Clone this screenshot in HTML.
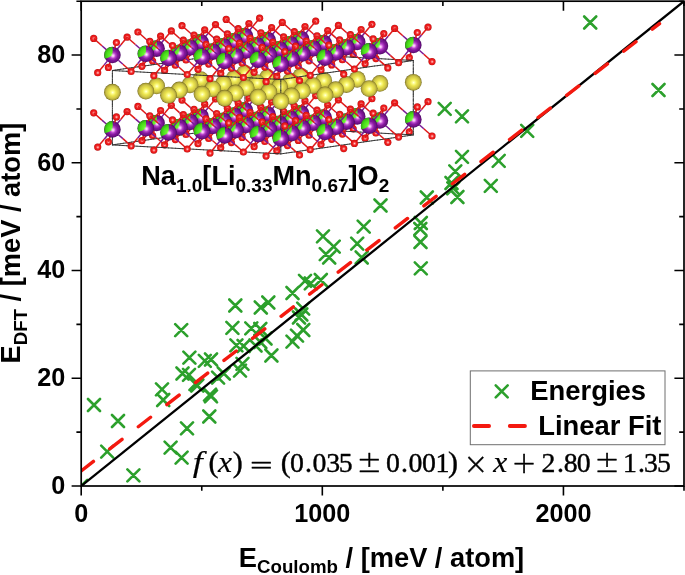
<!DOCTYPE html>
<html lang="en"><head><meta charset="utf-8"><title>E_DFT vs E_Coulomb</title>
<style>html,body{margin:0;padding:0;background:#fff;}body{width:685px;height:575px;overflow:hidden;}svg{display:block;}</style>
</head><body>
<svg width="685" height="575" viewBox="0 0 685 575" role="img" aria-label="Scatter plot of DFT energy versus Coulomb energy with linear fit">
<defs>
<radialGradient id="gMn" cx="0.5" cy="0.5" r="0.5" fx="0.54" fy="0.55">
<stop offset="0" stop-color="#fff2ff"/><stop offset="0.15" stop-color="#f2a6f4"/><stop offset="0.35" stop-color="#b442c8"/><stop offset="0.6" stop-color="#84189c"/><stop offset="0.86" stop-color="#6a0f82"/><stop offset="1" stop-color="#42085a"/></radialGradient>
<radialGradient id="gLi" cx="0.5" cy="0.5" r="0.5" fx="0.54" fy="0.55">
<stop offset="0" stop-color="#ffffff"/><stop offset="0.12" stop-color="#c0ffa6"/><stop offset="0.3" stop-color="#6af232"/><stop offset="0.7" stop-color="#48de1a"/><stop offset="1" stop-color="#2fa512"/></radialGradient>
<radialGradient id="gNa" cx="0.5" cy="0.5" r="0.5" fx="0.52" fy="0.52">
<stop offset="0" stop-color="#ffffee"/><stop offset="0.14" stop-color="#ffff96"/><stop offset="0.42" stop-color="#ece54e"/><stop offset="0.72" stop-color="#cfc546"/><stop offset="0.88" stop-color="#b0a53a"/><stop offset="1" stop-color="#746a1e"/></radialGradient>
<radialGradient id="gO" cx="0.5" cy="0.5" r="0.5" fx="0.53" fy="0.53">
<stop offset="0" stop-color="#ffe0e0"/><stop offset="0.25" stop-color="#fa7070"/><stop offset="0.5" stop-color="#f02424"/><stop offset="0.85" stop-color="#e21414"/><stop offset="1" stop-color="#b40c0c"/></radialGradient>
<clipPath id="wg" clipPathUnits="objectBoundingBox"><path d="M0.48 0.53 Q0.55 0.3 0.51 0 L0 0 L0 0.76 L0.05 0.73 Q0.3 0.66 0.48 0.53Z"/></clipPath>
<filter id="soft" x="-2%" y="-5%" width="104%" height="110%"><feGaussianBlur stdDeviation="0.45"/></filter>
<g id="aM"><circle r="8.3" fill="url(#gMn)"/><circle r="8.3" fill="url(#gLi)" clip-path="url(#wg)"/></g>
<circle id="aN" r="8.4" fill="url(#gNa)"/>
<circle id="aO" r="3.6" fill="url(#gO)"/>
<style>.bm{stroke:#7a1a96;stroke-width:1.5;fill:none}.bo{stroke:#de1a1a;stroke-width:1.5;fill:none}.bx{stroke:#303030;stroke-width:0.95;fill:none;stroke-linecap:round}</style>
</defs>
<rect x="0" y="0" width="685" height="575" fill="#ffffff"/>
<clipPath id="pc"><rect x="81.2" y="1.2" width="602.8" height="484.8"/></clipPath>
<path d="M75.2 480.0L87.2 492.0M75.2 492.0L87.2 480.0M88.0 399.0L100.0 411.0M88.0 411.0L100.0 399.0M112.0 415.0L124.0 427.0M112.0 427.0L124.0 415.0M101.2 445.6L113.2 457.6M101.2 457.6L113.2 445.6M127.4 469.4L139.4 481.4M127.4 481.4L139.4 469.4M156.0 383.4L168.0 395.4M156.0 395.4L168.0 383.4M157.2 394.0L169.2 406.0M157.2 406.0L169.2 394.0M181.0 422.4L193.0 434.4M181.0 434.4L193.0 422.4M164.6 441.6L176.6 453.6M164.6 453.6L176.6 441.6M175.6 451.6L187.6 463.6M175.6 463.6L187.6 451.6M203.3 410.5L215.3 422.5M203.3 422.5L215.3 410.5M175.2 324.2L187.2 336.2M175.2 336.2L187.2 324.2M183.4 351.7L195.4 363.7M183.4 363.7L195.4 351.7M176.5 367.5L188.5 379.5M176.5 379.5L188.5 367.5M183.0 368.8L195.0 380.8M183.0 380.8L195.0 368.8M198.8 354.8L210.8 366.8M198.8 366.8L210.8 354.8M205.0 353.5L217.0 365.5M205.0 365.5L217.0 353.5M191.3 379.5L203.3 391.5M191.3 391.5L203.3 379.5M189.5 378.0L201.5 390.0M189.5 390.0L201.5 378.0M205.0 390.3L217.0 402.3M205.0 402.3L217.0 390.3M204.0 388.6L216.0 400.6M204.0 400.6L216.0 388.6M212.1 371.6L224.1 383.6M212.1 383.6L224.1 371.6M217.8 367.5L229.8 379.5M217.8 379.5L229.8 367.5M234.0 364.6L246.0 376.6M234.0 376.6L246.0 364.6M230.4 339.4L242.4 351.4M230.4 351.4L242.4 339.4M237.6 340.0L249.6 352.0M237.6 352.0L249.6 340.0M229.3 299.5L241.3 311.5M229.3 311.5L241.3 299.5M254.8 301.5L266.8 313.5M254.8 313.5L266.8 301.5M262.3 296.5L274.3 308.5M262.3 308.5L274.3 296.5M286.5 287.0L298.5 299.0M286.5 299.0L298.5 287.0M226.4 321.9L238.4 333.9M226.4 333.9L238.4 321.9M245.3 322.3L257.3 334.3M245.3 334.3L257.3 322.3M254.3 323.0L266.3 335.0M254.3 335.0L266.3 323.0M236.5 357.8L248.5 369.8M236.5 369.8L248.5 357.8M265.4 349.5L277.4 361.5M265.4 361.5L277.4 349.5M286.5 335.7L298.5 347.7M286.5 347.7L298.5 335.7M297.3 324.0L309.3 336.0M297.3 336.0L309.3 324.0M297.2 302.6L309.2 314.6M297.2 314.6L309.2 302.6M295.3 308.5L307.3 320.5M295.3 320.5L307.3 308.5M293.0 311.5L305.0 323.5M293.0 323.5L305.0 311.5M249.5 339.5L261.5 351.5M249.5 351.5L261.5 339.5M254.3 336.0L266.3 348.0M254.3 348.0L266.3 336.0M259.5 332.5L271.5 344.5M259.5 344.5L271.5 332.5M291.0 329.7L303.0 341.7M291.0 341.7L303.0 329.7M374.5 199.5L386.5 211.5M374.5 211.5L386.5 199.5M357.7 220.7L369.7 232.7M357.7 232.7L369.7 220.7M317.0 230.3L329.0 242.3M317.0 242.3L329.0 230.3M327.7 240.7L339.7 252.7M327.7 252.7L339.7 240.7M351.2 237.7L363.2 249.7M351.2 249.7L363.2 237.7M319.8 248.2L331.8 260.2M319.8 260.2L331.8 248.2M323.2 251.5L335.2 263.5M323.2 263.5L335.2 251.5M355.7 251.5L367.7 263.5M355.7 263.5L367.7 251.5M299.0 274.8L311.0 286.8M299.0 286.8L311.0 274.8M304.8 277.3L316.8 289.3M304.8 289.3L316.8 277.3M314.8 274.0L326.8 286.0M314.8 286.0L326.8 274.0M420.8 191.5L432.8 203.5M420.8 203.5L432.8 191.5M451.4 191.0L463.4 203.0M451.4 203.0L463.4 191.0M414.8 217.0L426.8 229.0M414.8 229.0L426.8 217.0M414.3 223.0L426.3 235.0M414.3 235.0L426.3 223.0M414.5 236.0L426.5 248.0M414.5 248.0L426.5 236.0M414.8 262.3L426.8 274.3M414.8 274.3L426.8 262.3M456.0 150.8L468.0 162.8M456.0 162.8L468.0 150.8M449.3 165.3L461.3 177.3M449.3 177.3L461.3 165.3M445.5 177.0L457.5 189.0M445.5 189.0L457.5 177.0M447.3 182.3L459.3 194.3M447.3 194.3L459.3 182.3M484.8 179.8L496.8 191.8M484.8 191.8L496.8 179.8M438.7 102.8L450.7 114.8M438.7 114.8L450.7 102.8M456.0 110.3L468.0 122.3M456.0 122.3L468.0 110.3M521.2 124.8L533.2 136.8M521.2 136.8L533.2 124.8M492.7 154.8L504.7 166.8M492.7 166.8L504.7 154.8M584.2 16.5L596.2 28.5M584.2 28.5L596.2 16.5M652.5 84.0L664.5 96.0M652.5 96.0L664.5 84.0" fill="none" stroke="#2ca02c" stroke-width="2.6" stroke-linecap="round" clip-path="url(#pc)"/>
<line x1="81.2" y1="486.0" x2="684.0" y2="1.2" stroke="#000" stroke-width="2.3" clip-path="url(#pc)"/>
<line x1="81.2" y1="470.9" x2="659.5" y2="23.6" stroke="#f4190f" stroke-width="3.4" stroke-dasharray="15.5 20.6" stroke-linecap="round" clip-path="url(#pc)"/>
<g id="crystal" filter="url(#soft)">
<use href="#aO" x="240.9" y="122.9"/>
<path class="bm" d="M243.6 114.4L242.7 117.4"/><path class="bo" d="M242.7 117.4L240.9 122.9"/>
<use href="#aO" x="259.6" y="92.7"/>
<use href="#aO" x="240.9" y="48.5"/>
<path class="bx" d="M242.1 126.3L244.9 125.9M255.4 126.5L251.9 126.3L248.4 126.1L244.9 125.9M244.9 105.8L244.9 107.3L244.9 108.9L244.9 110.4L244.9 112L244.9 113.5L244.9 115.1L244.9 116.6L244.9 118.2L244.9 119.7L244.9 121.3L244.9 122.8L244.9 124.4L244.9 125.9"/>
<path class="bm" d="M249.6 104.7L253.1 100.4"/><path class="bo" d="M253.1 100.4L259.6 92.7"/>
<path class="bx" d="M239.4 126.7L242.1 126.3M258.9 126.7L255.4 126.5M244.9 94.9L244.9 96.5L244.9 98L244.9 99.6L244.9 101.1L244.9 102.7L244.9 104.2L244.9 105.8"/>
<use href="#aO" x="226.2" y="93.8"/>
<path class="bx" d="M262.4 126.8L258.9 126.7M244.9 93.4L244.9 94.9"/>
<use href="#aO" x="297" y="125.9"/>
<path class="bx" d="M236.6 127.1L239.4 126.7M265.9 127L262.4 126.8M244.9 84.1L244.9 85.6L244.9 87.2L244.9 88.7L244.9 90.3L244.9 91.8L244.9 93.4"/>
<path class="bm" d="M238.9 105L234.4 101.1"/><path class="bo" d="M234.4 101.1L226.2 93.8"/>
<path class="bx" d="M233.9 127.5L236.6 127.1M269.4 127.2L265.9 127M244.9 73.2L244.9 74.8L244.9 76.3L244.9 77.9L244.9 79.4L244.9 81L244.9 82.5L244.9 84.1"/>
<use href="#aM" x="244.9" y="110.4"/>
<path class="bx" d="M276.5 127.6L273 127.4L269.4 127.2M244.9 65.5L244.9 67L244.9 68.6L244.9 70.1L244.9 71.7L244.9 73.2"/>
<path class="bm" d="M243.6 40L242.7 43"/><path class="bo" d="M242.7 43L240.9 48.5"/>
<path class="bx" d="M244.9 62.4L244.9 63.9L244.9 65.5"/>
<use href="#aO" x="259.6" y="18.2"/>
<path class="bm" d="M250.9 115.7L255.4 119.7"/><path class="bo" d="M255.4 119.7L263.6 127"/>
<path class="bx" d="M231.1 127.9L233.9 127.5M283.5 128L280 127.8L276.5 127.6M244.9 51.5L244.9 53.1L244.9 54.6L244.9 56.2L244.9 57.7L244.9 59.3L244.9 60.8L244.9 62.4"/>
<use href="#aO" x="263.6" y="127"/>
<path class="bx" d="M242.1 51.9L244.9 51.5M248.4 51.7L244.9 51.5M228.3 128.3L231.1 127.9M287 128.2L283.5 128"/>
<path class="bm" d="M240.2 116L236.6 120.3"/><path class="bo" d="M236.6 120.3L230.2 128.1"/>
<path class="bx" d="M251.9 51.9L248.4 51.7M290.5 128.3L287 128.2"/>
<use href="#aN" x="244.9" y="73.3"/>
<path class="bx" d="M255.4 52.1L251.9 51.9M294 128.5L290.5 128.3"/>
<path class="bm" d="M249.6 30.3L253.1 26"/><path class="bo" d="M253.1 26L259.6 18.2"/>
<path class="bx" d="M239.4 52.3L242.1 51.9M225.6 128.7L228.3 128.3"/>
<path class="bm" d="M299.7 117.4L298.8 120.4"/><path class="bo" d="M298.8 120.4L297 125.9"/>
<path class="bx" d="M258.9 52.3L255.4 52.1"/>
<use href="#aO" x="315.7" y="95.7"/>
<path class="bx" d="M297.5 128.7L294 128.5"/>
<use href="#aO" x="226.2" y="19.4"/>
<path class="bx" d="M262.4 52.4L258.9 52.3"/>
<use href="#aO" x="297" y="51.5"/>
<path class="bx" d="M236.6 52.7L239.4 52.3M265.9 52.6L262.4 52.4M222.8 129.1L225.6 128.7M301 128.9L297.5 128.7"/>
<path class="bm" d="M238.9 30.6L234.4 26.7"/><path class="bo" d="M234.4 26.7L226.2 19.4"/>
<path class="bx" d="M304.5 129.1L301 128.9"/>
<use href="#aO" x="230.2" y="128.1"/>
<path class="bm" d="M246.2 106.4L247.1 103.4"/><path class="bo" d="M247.1 103.4L248.9 97.9"/>
<path class="bx" d="M233.9 53.1L236.6 52.7M269.4 52.8L265.9 52.6M220.1 129.5L222.8 129.1M308 129.3L304.5 129.1"/>
<use href="#aM" x="244.9" y="36"/>
<path class="bx" d="M273 53L269.4 52.8M311.5 129.5L308 129.3"/>
<path class="bm" d="M305.7 107.7L309.3 103.4"/><path class="bo" d="M309.3 103.4L315.7 95.7"/>
<path class="bx" d="M276.5 53.2L273 53M315.1 129.7L311.5 129.5"/>
<path class="bm" d="M250.9 41.3L255.4 45.3"/><path class="bo" d="M255.4 45.3L263.6 52.6"/>
<path class="bm" d="M266.3 118.5L265.4 121.5"/><path class="bo" d="M265.4 121.5L263.6 127"/>
<path class="bx" d="M231.1 53.5L233.9 53.1M280 53.4L276.5 53.2M217.3 129.9L220.1 129.5"/>
<use href="#aO" x="282.3" y="96.8"/>
<path class="bx" d="M318.6 129.8L315.1 129.7"/>
<use href="#aO" x="353.2" y="128.8"/>
<path class="bx" d="M283.5 53.6L280 53.4"/>
<use href="#aO" x="263.6" y="52.6"/>
<path class="bx" d="M322.1 130L318.6 129.8"/>
<path class="bm" d="M295 108L290.5 104.1"/><path class="bo" d="M290.5 104.1L282.3 96.8"/>
<path class="bx" d="M228.3 53.9L231.1 53.5M287 53.8L283.5 53.6M214.5 130.3L217.3 129.9"/>
<use href="#aO" x="196.7" y="129.2"/>
<path class="bx" d="M325.6 130.2L322.1 130"/>
<path class="bm" d="M240.2 41.6L236.6 45.9"/><path class="bo" d="M236.6 45.9L230.2 53.7"/>
<path class="bx" d="M290.5 53.9L287 53.8"/>
<use href="#aM" x="301" y="113.4"/>
<path class="bx" d="M225.6 54.3L228.3 53.9M294 54.1L290.5 53.9M211.8 130.7L214.5 130.3M332.6 130.6L329.1 130.4L325.6 130.2"/>
<path class="bm" d="M299.7 43L298.8 46"/><path class="bo" d="M298.8 46L297 51.5"/>
<path class="bm" d="M272.3 108.8L275.8 104.6"/><path class="bo" d="M275.8 104.6L282.3 96.8"/>
<use href="#aO" x="315.7" y="21.2"/>
<path class="bm" d="M307 118.7L311.5 122.7"/><path class="bo" d="M311.5 122.7L319.7 130"/>
<path class="bx" d="M297.5 54.3L294 54.1M336.1 130.8L332.6 130.6"/>
<path class="bm" d="M232.9 119.6L231.9 122.6"/><path class="bo" d="M231.9 122.6L230.2 128.1"/>
<path class="bx" d="M301 54.5L297.5 54.3"/>
<use href="#aO" x="248.9" y="97.9"/>
<path class="bx" d="M222.8 54.7L225.6 54.3M209 131.1L211.8 130.7M339.6 131L336.1 130.8"/>
<use href="#aO" x="319.7" y="130"/>
<path class="bx" d="M304.5 54.7L301 54.5"/>
<use href="#aO" x="230.2" y="53.7"/>
<path class="bm" d="M246.2 32L247.1 29"/><path class="bo" d="M247.1 29L248.9 23.5"/>
<path class="bx" d="M343.1 131.2L339.6 131"/>
<path class="bm" d="M261.6 109.2L257.1 105.2"/><path class="bo" d="M257.1 105.2L248.9 97.9"/>
<path class="bm" d="M296.3 119L292.8 123.3"/><path class="bo" d="M292.8 123.3L286.3 131.1"/>
<path class="bx" d="M220.1 55.1L222.8 54.7M308 54.9L304.5 54.7M206.3 131.4L209 131.1M346.6 131.3L343.1 131.2"/>
<use href="#aN" x="301" y="76.3"/>
<path class="bx" d="M311.5 55.1L308 54.9"/>
<use href="#aM" x="267.6" y="114.5"/>
<path class="bx" d="M350.1 131.5L346.6 131.3"/>
<path class="bm" d="M305.7 33.3L309.3 29"/><path class="bo" d="M309.3 29L315.7 21.2"/>
<path class="bm" d="M355.9 120.4L354.9 123.4"/><path class="bo" d="M354.9 123.4L353.2 128.8"/>
<path class="bx" d="M315.1 55.3L311.5 55.1"/>
<use href="#aO" x="371.9" y="98.7"/>
<path class="bx" d="M353.6 131.7L350.1 131.5"/>
<path class="bm" d="M266.3 44.1L265.4 47.1"/><path class="bo" d="M265.4 47.1L263.6 52.6"/>
<path class="bx" d="M217.3 55.5L220.1 55.1M203.5 131.8L206.3 131.4"/>
<path class="bm" d="M238.9 109.9L242.4 105.7"/><path class="bo" d="M242.4 105.7L248.9 97.9"/>
<use href="#aO" x="282.3" y="22.4"/>
<path class="bm" d="M273.6 119.8L278.1 123.8"/><path class="bo" d="M278.1 123.8L286.3 131.1"/>
<path class="bx" d="M318.6 55.4L315.1 55.3"/>
<use href="#aO" x="353.2" y="54.5"/>
<path class="bx" d="M357.2 131.9L353.6 131.7"/>
<path class="bm" d="M199.5 120.7L198.5 123.7"/><path class="bo" d="M198.5 123.7L196.7 129.2"/>
<path class="bx" d="M322.1 55.6L318.6 55.4"/>
<use href="#aO" x="215.5" y="99"/>
<path class="bm" d="M295 33.6L290.5 29.7"/><path class="bo" d="M290.5 29.7L282.3 22.4"/>
<path class="bx" d="M360.7 132.1L357.2 131.9"/>
<use href="#aO" x="286.3" y="131.1"/>
<path class="bx" d="M214.5 55.9L217.3 55.5M200.7 132.2L203.5 131.8"/>
<path class="bm" d="M302.3 109.4L303.3 106.4"/><path class="bo" d="M303.3 106.4L305 100.9"/>
<use href="#aO" x="196.7" y="54.8"/>
<path class="bx" d="M325.6 55.8L322.1 55.6M364.2 132.3L360.7 132.1"/>
<path class="bm" d="M228.2 110.3L223.7 106.3"/><path class="bo" d="M223.7 106.3L215.5 99"/>
<path class="bm" d="M262.9 120.1L259.3 124.4"/><path class="bo" d="M259.3 124.4L252.9 132.2"/>
<use href="#aM" x="301" y="39"/>
<path class="bx" d="M329.1 56L325.6 55.8M367.7 132.5L364.2 132.3"/>
<use href="#aN" x="267.6" y="77.4"/>
<path class="bx" d="M198 132.6L200.7 132.2"/>
<path class="bm" d="M361.9 110.7L365.4 106.4"/><path class="bo" d="M365.4 106.4L371.9 98.7"/>
<path class="bx" d="M211.8 56.3L214.5 55.9M332.6 56.2L329.1 56"/>
<use href="#aM" x="234.2" y="115.6"/>
<path class="bm" d="M272.3 34.4L275.8 30.2"/><path class="bo" d="M275.8 30.2L282.3 22.4"/>
<path class="bx" d="M371.2 132.7L367.7 132.5"/>
<path class="bm" d="M307 44.3L311.5 48.3"/><path class="bo" d="M311.5 48.3L319.7 55.6"/>
<path class="bm" d="M322.4 121.5L321.5 124.5"/><path class="bo" d="M321.5 124.5L319.7 130"/>
<path class="bx" d="M336.1 56.4L332.6 56.2"/>
<use href="#aO" x="338.4" y="99.8"/>
<path class="bx" d="M374.7 132.8L371.2 132.7"/>
<path class="bm" d="M232.9 45.2L231.9 48.2"/><path class="bo" d="M231.9 48.2L230.2 53.7"/>
<use href="#aO" x="409.3" y="131.9"/>
<path class="bm" d="M205.4 111L209 106.8"/><path class="bo" d="M209 106.8L215.5 99"/>
<use href="#aO" x="248.9" y="23.5"/>
<path class="bm" d="M240.1 120.9L244.6 124.9"/><path class="bo" d="M244.6 124.9L252.9 132.2"/>
<path class="bx" d="M209 56.7L211.8 56.3M339.6 56.6L336.1 56.4M195.2 133L198 132.6"/>
<use href="#aO" x="319.7" y="55.6"/>
<path class="bx" d="M378.2 133L374.7 132.8"/>
<path class="bm" d="M351.2 111L346.7 107.1"/><path class="bo" d="M346.7 107.1L338.4 99.8"/>
<path class="bx" d="M343.1 56.8L339.6 56.6"/>
<use href="#aO" x="182" y="100.1"/>
<path class="bm" d="M261.6 34.8L257.1 30.8"/><path class="bo" d="M257.1 30.8L248.9 23.5"/>
<use href="#aO" x="252.9" y="132.2"/>
<path class="bx" d="M381.7 133.2L378.2 133"/>
<path class="bm" d="M296.3 44.6L292.8 48.9"/><path class="bo" d="M292.8 48.9L286.3 56.7"/>
<path class="bm" d="M268.9 110.5L269.8 107.5"/><path class="bo" d="M269.8 107.5L271.6 102"/>
<path class="bx" d="M206.3 57L209 56.7M346.6 56.9L343.1 56.8M192.5 133.4L195.2 133"/>
<use href="#aM" x="357.2" y="116.4"/>
<path class="bx" d="M385.2 133.4L381.7 133.2"/>
<path class="bm" d="M194.7 111.4L190.3 107.4"/><path class="bo" d="M190.3 107.4L182 100.1"/>
<path class="bm" d="M229.4 121.2L225.9 125.5"/><path class="bo" d="M225.9 125.5L219.4 133.3"/>
<use href="#aM" x="267.6" y="40.1"/>
<path class="bx" d="M350.1 57.1L346.6 56.9M388.7 133.6L385.2 133.4"/>
<path class="bm" d="M355.9 46L354.9 49"/><path class="bo" d="M354.9 49L353.2 54.5"/>
<use href="#aN" x="234.2" y="78.5"/>
<path class="bm" d="M328.4 111.8L332 107.6"/><path class="bo" d="M332 107.6L338.4 99.8"/>
<use href="#aO" x="371.9" y="24.3"/>
<path class="bm" d="M363.1 121.7L367.6 125.7"/><path class="bo" d="M367.6 125.7L375.9 133"/>
<path class="bx" d="M203.5 57.4L206.3 57M353.6 57.3L350.1 57.1M189.7 133.8L192.5 133.4"/>
<use href="#aM" x="200.7" y="116.7"/>
<path class="bm" d="M238.9 35.5L242.4 31.3"/><path class="bo" d="M242.4 31.3L248.9 23.5"/>
<path class="bx" d="M392.2 133.8L388.7 133.6"/>
<path class="bm" d="M273.6 45.4L278.1 49.4"/><path class="bo" d="M278.1 49.4L286.3 56.7"/>
<path class="bm" d="M289 122.6L288.1 125.6"/><path class="bo" d="M288.1 125.6L286.3 131.1"/>
<path class="bx" d="M357.2 57.5L353.6 57.3"/>
<use href="#aO" x="305" y="100.9"/>
<path class="bm" d="M199.5 46.3L198.5 49.3"/><path class="bo" d="M198.5 49.3L196.7 54.8"/>
<path class="bx" d="M395.7 134L392.2 133.8"/>
<use href="#aO" x="375.9" y="133"/>
<use href="#aO" x="215.5" y="24.6"/>
<path class="bm" d="M206.7 122L211.2 126"/><path class="bo" d="M211.2 126L219.4 133.3"/>
<path class="bx" d="M360.7 57.7L357.2 57.5"/>
<use href="#aO" x="286.3" y="56.7"/>
<path class="bx" d="M200.7 57.8L203.5 57.4M186.9 134.2L189.7 133.8"/>
<path class="bm" d="M302.3 35L303.3 32"/><path class="bo" d="M303.3 32L305 26.5"/>
<path class="bx" d="M399.2 134.2L395.7 134"/>
<path class="bm" d="M317.7 112.2L313.2 108.2"/><path class="bo" d="M313.2 108.2L305 100.9"/>
<path class="bm" d="M352.4 122L348.9 126.3"/><path class="bo" d="M348.9 126.3L342.4 134.1"/>
<path class="bx" d="M364.2 57.9L360.7 57.7"/>
<path class="bm" d="M228.2 35.9L223.7 31.9"/><path class="bo" d="M223.7 31.9L215.5 24.6"/>
<use href="#aO" x="219.4" y="133.3"/>
<path class="bx" d="M402.8 134.3L399.2 134.2"/>
<path class="bm" d="M262.9 45.7L259.3 50"/><path class="bo" d="M259.3 50L252.9 57.8"/>
<use href="#aN" x="357.2" y="79.3"/>
<path class="bm" d="M235.4 111.6L236.4 108.6"/><path class="bo" d="M236.4 108.6L238.2 103.1"/>
<path class="bx" d="M367.7 58.1L364.2 57.9"/>
<use href="#aM" x="323.7" y="117.5"/>
<path class="bx" d="M198 58.2L200.7 57.8M184.2 134.6L186.9 134.2M406.3 134.5L402.8 134.3"/>
<path class="bm" d="M361.9 36.3L365.4 32"/><path class="bo" d="M365.4 32L371.9 24.3"/>
<path class="bm" d="M196 122.4L192.5 126.6"/><path class="bo" d="M192.5 126.6L186 134.4"/>
<use href="#aM" x="234.2" y="41.2"/>
<path class="bm" d="M412 123.4L411 126.4"/><path class="bo" d="M411 126.4L409.3 131.9"/>
<path class="bx" d="M371.2 58.3L367.7 58.1"/>
<use href="#aO" x="428" y="101.7"/>
<path class="bx" d="M409.8 134.7L406.3 134.5"/>
<path class="bm" d="M322.4 47.1L321.5 50.1"/><path class="bo" d="M321.5 50.1L319.7 55.6"/>
<use href="#aN" x="200.7" y="79.6"/>
<path class="bm" d="M295 112.9L298.5 108.7"/><path class="bo" d="M298.5 108.7L305 100.9"/>
<use href="#aO" x="338.4" y="25.4"/>
<path class="bm" d="M329.7 122.8L334.2 126.8"/><path class="bo" d="M334.2 126.8L342.4 134.1"/>
<path class="bx" d="M374.7 58.4L371.2 58.3"/>
<use href="#aO" x="409.3" y="57.5"/>
<path class="bm" d="M205.4 36.6L209 32.4"/><path class="bo" d="M209 32.4L215.5 24.6"/>
<path class="bm" d="M240.1 46.5L244.6 50.5"/><path class="bo" d="M244.6 50.5L252.9 57.8"/>
<path class="bx" d="M195.2 58.6L198 58.2M181.4 135L184.2 134.6M413.3 134.9L409.8 134.7"/>
<path class="bm" d="M255.6 123.7L254.6 126.7"/><path class="bo" d="M254.6 126.7L252.9 132.2"/>
<path class="bx" d="M378.2 58.6L374.7 58.4M413.3 133.4L413.3 134.9"/>
<use href="#aO" x="271.6" y="102"/>
<path class="bx" d="M413.3 131.8L413.3 133.4"/>
<path class="bm" d="M351.2 36.6L346.7 32.7"/><path class="bo" d="M346.7 32.7L338.4 25.4"/>
<use href="#aO" x="342.4" y="134.1"/>
<path class="bx" d="M413.3 128.7L413.3 130.3L413.3 131.8"/>
<use href="#aO" x="182" y="25.7"/>
<path class="bm" d="M358.4 112.4L359.4 109.4"/><path class="bo" d="M359.4 109.4L361.1 103.9"/>
<path class="bx" d="M413.3 127.2L413.3 128.7"/>
<use href="#aO" x="252.9" y="57.8"/>
<path class="bx" d="M381.7 58.8L378.2 58.6M410.5 135.3L413.3 134.9M413.3 125.6L413.3 127.2"/>
<path class="bm" d="M268.9 36.1L269.8 33.1"/><path class="bo" d="M269.8 33.1L271.6 27.6"/>
<path class="bx" d="M192.5 59L195.2 58.6M178.7 135.4L181.4 135M413.3 122.5L413.3 124.1L413.3 125.6"/>
<path class="bm" d="M284.3 113.3L279.8 109.3"/><path class="bo" d="M279.8 109.3L271.6 102"/>
<path class="bx" d="M413.3 121L413.3 122.5"/>
<path class="bm" d="M319 123.1L315.5 127.4"/><path class="bo" d="M315.5 127.4L309 135.2"/>
<use href="#aM" x="357.2" y="42"/>
<path class="bx" d="M385.2 59L381.7 58.8M413.3 117.9L413.3 119.4L413.3 121"/>
<path class="bm" d="M194.7 37L190.3 33"/><path class="bo" d="M190.3 33L182 25.7"/>
<use href="#aO" x="186" y="134.4"/>
<path class="bm" d="M229.4 46.8L225.9 51.1"/><path class="bo" d="M225.9 51.1L219.4 58.9"/>
<path class="bx" d="M413.3 116.3L413.3 117.9"/>
<use href="#aN" x="323.7" y="80.4"/>
<path class="bm" d="M202 112.7L203 109.7"/><path class="bo" d="M203 109.7L204.7 104.2"/>
<path class="bx" d="M413.3 114.8L413.3 116.3"/>
<path class="bm" d="M418 113.7L421.5 109.4"/><path class="bo" d="M421.5 109.4L428 101.7"/>
<path class="bx" d="M388.7 59.2L385.2 59M407.8 135.7L410.5 135.3M413.3 111.7L413.3 113.2L413.3 114.8"/>
<use href="#aM" x="290.3" y="118.6"/>
<path class="bx" d="M413.3 110.1L413.3 111.7"/>
<path class="bm" d="M328.4 37.4L332 33.2"/><path class="bo" d="M332 33.2L338.4 25.4"/>
<path class="bm" d="M363.1 47.3L367.6 51.3"/><path class="bo" d="M367.6 51.3L375.9 58.6"/>
<path class="bx" d="M189.7 59.4L192.5 59M175.9 135.8L178.7 135.4M413.3 107L413.3 108.6L413.3 110.1"/>
<use href="#aM" x="200.7" y="42.3"/>
<path class="bm" d="M378.6 124.5L377.6 127.5"/><path class="bo" d="M377.6 127.5L375.9 133"/>
<path class="bx" d="M392.2 59.4L388.7 59.2M413.3 103.9L413.3 105.5L413.3 107"/>
<use href="#aO" x="394.6" y="102.8"/>
<path class="bm" d="M289 48.2L288.1 51.2"/><path class="bo" d="M288.1 51.2L286.3 56.7"/>
<path class="bx" d="M413.3 100.8L413.3 102.4L413.3 103.9"/>
<path class="bm" d="M261.6 114L265.1 109.8"/><path class="bo" d="M265.1 109.8L271.6 102"/>
<use href="#aO" x="305" y="26.5"/>
<path class="bm" d="M296.3 123.9L300.8 127.9"/><path class="bo" d="M300.8 127.9L309 135.2"/>
<path class="bx" d="M395.7 59.6L392.2 59.4M413.3 99.3L413.3 100.8"/>
<use href="#aO" x="375.9" y="58.6"/>
<path class="bx" d="M405 136.1L407.8 135.7M413.3 96.2L413.3 97.7L413.3 99.3"/>
<path class="bm" d="M206.7 47.6L211.2 51.6"/><path class="bo" d="M211.2 51.6L219.4 58.9"/>
<path class="bx" d="M413.3 94.6L413.3 96.2"/>
<path class="bm" d="M222.2 124.8L221.2 127.8"/><path class="bo" d="M221.2 127.8L219.4 133.3"/>
<path class="bx" d="M413.3 93.1L413.3 94.6"/>
<path class="bm" d="M407.3 114L402.8 110.1"/><path class="bo" d="M402.8 110.1L394.6 102.8"/>
<path class="bx" d="M186.9 59.8L189.7 59.4M399.2 59.8L395.7 59.6M173.1 136.2L175.9 135.8M413.3 91.5L413.3 93.1"/>
<use href="#aO" x="238.2" y="103.1"/>
<path class="bx" d="M413.3 90L413.3 91.5"/>
<path class="bm" d="M317.7 37.8L313.2 33.8"/><path class="bo" d="M313.2 33.8L305 26.5"/>
<use href="#aO" x="309" y="135.2"/>
<path class="bx" d="M413.3 88.4L413.3 90"/>
<path class="bm" d="M352.4 47.6L348.9 51.9"/><path class="bo" d="M348.9 51.9L342.4 59.7"/>
<path class="bx" d="M413.3 86.9L413.3 88.4"/>
<path class="bm" d="M325 113.5L326 110.5"/><path class="bo" d="M326 110.5L327.7 105"/>
<path class="bx" d="M413.3 85.3L413.3 86.9"/>
<use href="#aO" x="219.4" y="58.9"/>
<path class="bx" d="M402.8 59.9L399.2 59.8M413.3 83.8L413.3 85.3"/>
<path class="bm" d="M235.4 37.2L236.4 34.2"/><path class="bo" d="M236.4 34.2L238.2 28.7"/>
<path class="bx" d="M402.2 136.5L405 136.1M413.3 82.2L413.3 83.8"/>
<use href="#aM" x="413.3" y="119.4"/>
<path class="bx" d="M413.3 80.7L413.3 82.2"/>
<path class="bm" d="M250.9 114.4L246.4 110.4"/><path class="bo" d="M246.4 110.4L238.2 103.1"/>
<path class="bx" d="M413.3 79.1L413.3 80.7"/>
<path class="bm" d="M285.6 124.2L282 128.5"/><path class="bo" d="M282 128.5L275.6 136.3"/>
<use href="#aM" x="323.7" y="43.1"/>
<path class="bx" d="M184.2 60.2L186.9 59.8M406.3 60.1L402.8 59.9M170.4 136.6L173.1 136.2M413.3 76L413.3 77.6L413.3 79.1"/>
<use href="#aO" x="152.6" y="135.5"/>
<path class="bm" d="M196 48L192.5 52.2"/><path class="bo" d="M192.5 52.2L186 60"/>
<path class="bx" d="M413.3 74.5L413.3 76"/>
<path class="bm" d="M412 49L411 52"/><path class="bo" d="M411 52L409.3 57.5"/>
<use href="#aN" x="290.3" y="81.5"/>
<path class="bx" d="M413.3 72.9L413.3 74.5"/>
<path class="bm" d="M384.6 114.8L388.1 110.6"/><path class="bo" d="M388.1 110.6L394.6 102.8"/>
<path class="bx" d="M413.3 71.4L413.3 72.9"/>
<use href="#aO" x="428" y="27.2"/>
<path class="bm" d="M419.3 124.7L423.8 128.7"/><path class="bo" d="M423.8 128.7L432 136"/>
<path class="bx" d="M409.8 60.3L406.3 60.1M413.3 69.8L413.3 71.4"/>
<use href="#aM" x="256.9" y="119.7"/>
<path class="bx" d="M413.3 68.3L413.3 69.8"/>
<path class="bm" d="M295 38.5L298.5 34.3"/><path class="bo" d="M298.5 34.3L305 26.5"/>
<path class="bx" d="M399.5 136.9L402.2 136.5"/>
<path class="bm" d="M329.7 48.4L334.2 52.4"/><path class="bo" d="M334.2 52.4L342.4 59.7"/>
<path class="bx" d="M413.3 65.2L413.3 66.7L413.3 68.3"/>
<path class="bm" d="M345.1 125.6L344.2 128.6"/><path class="bo" d="M344.2 128.6L342.4 134.1"/>
<path class="bx" d="M181.4 60.6L184.2 60.2M413.3 60.5L409.8 60.3M167.6 137L170.4 136.6M413.3 62.1L413.3 63.6L413.3 65.2"/>
<use href="#aO" x="361.1" y="103.9"/>
<path class="bm" d="M255.6 49.3L254.6 52.3"/><path class="bo" d="M254.6 52.3L252.9 57.8"/>
<path class="bx" d="M413.3 60.5L413.3 62.1"/>
<use href="#aO" x="432" y="136"/>
<path class="bm" d="M228.1 115.1L231.7 110.9"/><path class="bo" d="M231.7 110.9L238.2 103.1"/>
<use href="#aO" x="271.6" y="27.6"/>
<path class="bm" d="M262.8 125L267.3 129"/><path class="bo" d="M267.3 129L275.6 136.3"/>
<use href="#aO" x="342.4" y="59.7"/>
<path class="bm" d="M358.4 38L359.4 35"/><path class="bo" d="M359.4 35L361.1 29.5"/>
<path class="bx" d="M410.5 60.9L413.3 60.5M396.7 137.3L399.5 136.9"/>
<path class="bm" d="M188.7 125.9L187.8 128.9"/><path class="bo" d="M187.8 128.9L186 134.4"/>
<path class="bm" d="M373.9 115.2L369.4 111.2"/><path class="bo" d="M369.4 111.2L361.1 103.9"/>
<path class="bm" d="M408.6 125L405 129.3"/><path class="bo" d="M405 129.3L398.6 137.1"/>
<use href="#aO" x="204.7" y="104.2"/>
<path class="bx" d="M178.7 61L181.4 60.6M164.9 137.4L167.6 137"/>
<path class="bm" d="M284.3 38.9L279.8 34.9"/><path class="bo" d="M279.8 34.9L271.6 27.6"/>
<use href="#aO" x="275.6" y="136.3"/>
<path class="bm" d="M319 48.7L315.5 53"/><path class="bo" d="M315.5 53L309 60.8"/>
<use href="#aN" x="413.3" y="82.3"/>
<path class="bm" d="M291.6 114.6L292.5 111.6"/><path class="bo" d="M292.5 111.6L294.3 106.1"/>
<use href="#aO" x="186" y="60"/>
<path class="bm" d="M202 38.3L203 35.3"/><path class="bo" d="M203 35.3L204.7 29.8"/>
<use href="#aM" x="379.9" y="120.5"/>
<path class="bm" d="M418 39.3L421.5 35"/><path class="bo" d="M421.5 35L428 27.2"/>
<path class="bm" d="M217.4 115.5L213 111.5"/><path class="bo" d="M213 111.5L204.7 104.2"/>
<path class="bx" d="M407.8 61.3L410.5 60.9M394 137.7L396.7 137.3"/>
<path class="bm" d="M252.1 125.4L248.6 129.6"/><path class="bo" d="M248.6 129.6L242.1 137.4"/>
<use href="#aM" x="290.3" y="44.2"/>
<path class="bx" d="M175.9 61.4L178.7 61M162.1 137.8L164.9 137.4"/>
<path class="bm" d="M378.6 50.1L377.6 53.1"/><path class="bo" d="M377.6 53.1L375.9 58.6"/>
<use href="#aN" x="256.9" y="82.6"/>
<path class="bm" d="M351.1 115.9L354.7 111.7"/><path class="bo" d="M354.7 111.7L361.1 103.9"/>
<use href="#aO" x="394.6" y="28.4"/>
<path class="bm" d="M385.8 125.8L390.3 129.8"/><path class="bo" d="M390.3 129.8L398.6 137.1"/>
<use href="#aM" x="223.4" y="120.8"/>
<path class="bm" d="M261.6 39.6L265.1 35.4"/><path class="bo" d="M265.1 35.4L271.6 27.6"/>
<path class="bm" d="M296.3 49.5L300.8 53.5"/><path class="bo" d="M300.8 53.5L309 60.8"/>
<path class="bx" d="M391.2 138.1L394 137.7"/>
<path class="bm" d="M311.7 126.7L310.8 129.7"/><path class="bo" d="M310.8 129.7L309 135.2"/>
<path class="bx" d="M405 61.7L407.8 61.3"/>
<use href="#aO" x="327.7" y="105"/>
<path class="bm" d="M222.2 50.4L221.2 53.4"/><path class="bo" d="M221.2 53.4L219.4 58.9"/>
<path class="bm" d="M407.3 39.6L402.8 35.7"/><path class="bo" d="M402.8 35.7L394.6 28.4"/>
<use href="#aO" x="398.6" y="137.1"/>
<path class="bx" d="M173.1 61.8L175.9 61.4M159.3 138.2L162.1 137.8"/>
<path class="bm" d="M194.7 116.2L198.2 112"/><path class="bo" d="M198.2 112L204.7 104.2"/>
<use href="#aO" x="238.2" y="28.7"/>
<path class="bm" d="M229.4 126.1L233.9 130.1"/><path class="bo" d="M233.9 130.1L242.1 137.4"/>
<path class="bm" d="M414.6 115.4L415.5 112.4"/><path class="bo" d="M415.5 112.4L417.3 106.9"/>
<use href="#aO" x="309" y="60.8"/>
<path class="bm" d="M325 39.1L326 36.1"/><path class="bo" d="M326 36.1L327.7 30.6"/>
<path class="bm" d="M155.3 127L154.3 130"/><path class="bo" d="M154.3 130L152.6 135.5"/>
<path class="bm" d="M340.4 116.3L335.9 112.3"/><path class="bo" d="M335.9 112.3L327.7 105"/>
<path class="bm" d="M375.1 126.1L371.6 130.4"/><path class="bo" d="M371.6 130.4L365.1 138.2"/>
<path class="bx" d="M402.2 62.1L405 61.7M388.4 138.5L391.2 138.1"/>
<use href="#aM" x="413.3" y="45"/>
<use href="#aO" x="171.3" y="105.3"/>
<path class="bm" d="M250.9 40L246.4 36"/><path class="bo" d="M246.4 36L238.2 28.7"/>
<use href="#aO" x="242.1" y="137.4"/>
<path class="bm" d="M285.6 49.8L282 54.1"/><path class="bo" d="M282 54.1L275.6 61.9"/>
<path class="bx" d="M170.4 62.2L173.1 61.8M156.6 138.6L159.3 138.2"/>
<use href="#aN" x="379.9" y="83.4"/>
<path class="bm" d="M258.1 115.7L259.1 112.7"/><path class="bo" d="M259.1 112.7L260.9 107.2"/>
<use href="#aO" x="152.6" y="61.1"/>
<use href="#aM" x="346.4" y="121.6"/>
<path class="bm" d="M384.6 40.4L388.1 36.2"/><path class="bo" d="M388.1 36.2L394.6 28.4"/>
<path class="bm" d="M419.3 50.3L423.8 54.3"/><path class="bo" d="M423.8 54.3L432 61.6"/>
<path class="bm" d="M184 116.6L179.5 112.6"/><path class="bo" d="M179.5 112.6L171.3 105.3"/>
<path class="bm" d="M218.7 126.5L215.2 130.7"/><path class="bo" d="M215.2 130.7L208.7 138.5"/>
<use href="#aM" x="256.9" y="45.3"/>
<path class="bx" d="M399.5 62.5L402.2 62.1M385.7 138.9L388.4 138.5"/>
<path class="bm" d="M345.1 51.2L344.2 54.2"/><path class="bo" d="M344.2 54.2L342.4 59.7"/>
<use href="#aN" x="223.4" y="83.7"/>
<path class="bx" d="M153.8 139L156.6 138.6"/>
<path class="bm" d="M317.7 117L321.2 112.8"/><path class="bo" d="M321.2 112.8L327.7 105"/>
<path class="bx" d="M167.6 62.6L170.4 62.2"/>
<use href="#aO" x="361.1" y="29.5"/>
<path class="bm" d="M352.4 126.9L356.9 130.9"/><path class="bo" d="M356.9 130.9L365.1 138.2"/>
<use href="#aO" x="432" y="61.6"/>
<use href="#aM" x="190" y="121.9"/>
<path class="bm" d="M228.1 40.7L231.7 36.5"/><path class="bo" d="M231.7 36.5L238.2 28.7"/>
<path class="bm" d="M262.8 50.6L267.3 54.6"/><path class="bo" d="M267.3 54.6L275.6 61.9"/>
<path class="bm" d="M278.3 127.8L277.3 130.8"/><path class="bo" d="M277.3 130.8L275.6 136.3"/>
<use href="#aO" x="294.3" y="106.1"/>
<path class="bx" d="M396.7 62.9L399.5 62.5M382.9 139.3L385.7 138.9"/>
<path class="bm" d="M188.7 51.5L187.8 54.5"/><path class="bo" d="M187.8 54.5L186 60"/>
<path class="bm" d="M373.9 40.8L369.4 36.8"/><path class="bo" d="M369.4 36.8L361.1 29.5"/>
<use href="#aO" x="365.1" y="138.2"/>
<path class="bm" d="M408.6 50.6L405 54.9"/><path class="bo" d="M405 54.9L398.6 62.7"/>
<path class="bm" d="M161.3 117.4L164.8 113.1"/><path class="bo" d="M164.8 113.1L171.3 105.3"/>
<use href="#aO" x="204.7" y="29.8"/>
<path class="bm" d="M196 127.2L200.5 131.2"/><path class="bo" d="M200.5 131.2L208.7 138.5"/>
<path class="bm" d="M381.1 116.5L382.1 113.5"/><path class="bo" d="M382.1 113.5L383.8 108"/>
<path class="bx" d="M164.9 63L167.6 62.6M151.1 139.4L153.8 139"/>
<use href="#aO" x="275.6" y="61.9"/>
<path class="bm" d="M291.6 40.2L292.5 37.2"/><path class="bo" d="M292.5 37.2L294.3 31.7"/>
<path class="bm" d="M307 117.4L302.5 113.4"/><path class="bo" d="M302.5 113.4L294.3 106.1"/>
<path class="bm" d="M341.7 127.2L338.2 131.5"/><path class="bo" d="M338.2 131.5L331.7 139.3"/>
<use href="#aM" x="379.9" y="46.1"/>
<use href="#aO" x="137.9" y="106.4"/>
<path class="bm" d="M217.4 41.1L213 37.1"/><path class="bo" d="M213 37.1L204.7 29.8"/>
<use href="#aO" x="208.7" y="138.5"/>
<path class="bx" d="M394 63.3L396.7 62.9M380.2 139.7L382.9 139.3"/>
<path class="bm" d="M252.1 51L248.6 55.2"/><path class="bo" d="M248.6 55.2L242.1 63"/>
<use href="#aN" x="346.4" y="84.5"/>
<path class="bm" d="M224.7 116.8L225.7 113.8"/><path class="bo" d="M225.7 113.8L227.4 108.3"/>
<path class="bx" d="M162.1 63.4L164.9 63M148.3 139.8L151.1 139.4"/>
<use href="#aM" x="313" y="122.7"/>
<path class="bm" d="M351.1 41.5L354.7 37.3"/><path class="bo" d="M354.7 37.3L361.1 29.5"/>
<path class="bm" d="M385.8 51.4L390.3 55.4"/><path class="bo" d="M390.3 55.4L398.6 62.7"/>
<path class="bm" d="M150.6 117.7L146.1 113.7"/><path class="bo" d="M146.1 113.7L137.9 106.4"/>
<path class="bm" d="M185.3 127.6L181.8 131.8"/><path class="bo" d="M181.8 131.8L175.3 139.6"/>
<use href="#aM" x="223.4" y="46.4"/>
<use href="#aO" x="417.3" y="106.9"/>
<path class="bx" d="M391.2 63.7L394 63.3M377.4 140.1L380.2 139.7"/>
<path class="bm" d="M311.7 52.3L310.8 55.3"/><path class="bo" d="M310.8 55.3L309 60.8"/>
<use href="#aN" x="190" y="84.8"/>
<path class="bm" d="M284.3 118.1L287.8 113.9"/><path class="bo" d="M287.8 113.9L294.3 106.1"/>
<use href="#aO" x="327.7" y="30.6"/>
<path class="bm" d="M319 128L323.5 132"/><path class="bo" d="M323.5 132L331.7 139.3"/>
<path class="bx" d="M145.5 140.2L148.3 139.8"/>
<use href="#aO" x="398.6" y="62.7"/>
<path class="bx" d="M159.3 63.8L162.1 63.4"/>
<use href="#aM" x="156.6" y="123"/>
<path class="bm" d="M194.7 41.8L198.2 37.6"/><path class="bo" d="M198.2 37.6L204.7 29.8"/>
<path class="bm" d="M229.4 51.7L233.9 55.7"/><path class="bo" d="M233.9 55.7L242.1 63"/>
<path class="bm" d="M414.6 41L415.5 38"/><path class="bo" d="M415.5 38L417.3 32.5"/>
<path class="bm" d="M244.9 128.9L243.9 131.9"/><path class="bo" d="M243.9 131.9L242.1 137.4"/>
<use href="#aO" x="260.9" y="107.2"/>
<path class="bm" d="M155.3 52.6L154.3 55.6"/><path class="bo" d="M154.3 55.6L152.6 61.1"/>
<path class="bm" d="M340.4 41.9L335.9 37.9"/><path class="bo" d="M335.9 37.9L327.7 30.6"/>
<use href="#aO" x="331.7" y="139.3"/>
<path class="bm" d="M375.1 51.7L371.6 56"/><path class="bo" d="M371.6 56L365.1 63.8"/>
<path class="bx" d="M388.4 64.1L391.2 63.7M374.6 140.4L377.4 140.1"/>
<use href="#aO" x="171.3" y="30.9"/>
<path class="bm" d="M162.6 128.3L167 132.3"/><path class="bo" d="M167 132.3L175.3 139.6"/>
<path class="bm" d="M347.7 117.6L348.7 114.6"/><path class="bo" d="M348.7 114.6L350.4 109.1"/>
<use href="#aO" x="242.1" y="63"/>
<path class="bx" d="M156.6 64.2L159.3 63.8M142.8 140.5L145.5 140.2"/>
<path class="bm" d="M258.1 41.3L259.1 38.3"/><path class="bo" d="M259.1 38.3L260.9 32.8"/>
<path class="bm" d="M273.6 118.5L269.1 114.5"/><path class="bo" d="M269.1 114.5L260.9 107.2"/>
<path class="bm" d="M308.3 128.4L304.7 132.6"/><path class="bo" d="M304.7 132.6L298.3 140.4"/>
<use href="#aM" x="346.4" y="47.2"/>
<path class="bm" d="M184 42.2L179.5 38.2"/><path class="bo" d="M179.5 38.2L171.3 30.9"/>
<use href="#aO" x="175.3" y="139.6"/>
<path class="bm" d="M218.7 52.1L215.2 56.3"/><path class="bo" d="M215.2 56.3L208.7 64.1"/>
<use href="#aN" x="313" y="85.6"/>
<path class="bm" d="M191.3 117.9L192.2 114.9"/><path class="bo" d="M192.2 114.9L194 109.4"/>
<path class="bx" d="M385.7 64.5L388.4 64.1M371.9 140.8L374.6 140.4"/>
<use href="#aM" x="279.6" y="123.8"/>
<path class="bx" d="M153.8 64.6L156.6 64.2M140 140.9L142.8 140.5"/>
<path class="bm" d="M317.7 42.6L321.2 38.4"/><path class="bo" d="M321.2 38.4L327.7 30.6"/>
<path class="bm" d="M352.4 52.5L356.9 56.5"/><path class="bo" d="M356.9 56.5L365.1 63.8"/>
<path class="bm" d="M151.9 128.7L148.3 132.9"/><path class="bo" d="M148.3 132.9L141.9 140.7"/>
<use href="#aM" x="190" y="47.5"/>
<path class="bm" d="M367.8 129.7L366.9 132.7"/><path class="bo" d="M366.9 132.7L365.1 138.2"/>
<use href="#aO" x="383.8" y="108"/>
<path class="bm" d="M278.3 53.4L277.3 56.4"/><path class="bo" d="M277.3 56.4L275.6 61.9"/>
<use href="#aN" x="156.6" y="85.9"/>
<path class="bm" d="M250.8 119.2L254.4 115"/><path class="bo" d="M254.4 115L260.9 107.2"/>
<use href="#aO" x="294.3" y="31.7"/>
<path class="bx" d="M369.1 141.2L371.9 140.8"/>
<path class="bm" d="M285.5 129.1L290 133.1"/><path class="bo" d="M290 133.1L298.3 140.4"/>
<path class="bx" d="M382.9 64.9L385.7 64.5"/>
<use href="#aO" x="365.1" y="63.8"/>
<path class="bm" d="M161.3 43L164.8 38.7"/><path class="bo" d="M164.8 38.7L171.3 30.9"/>
<path class="bm" d="M196 52.8L200.5 56.8"/><path class="bo" d="M200.5 56.8L208.7 64.1"/>
<path class="bm" d="M381.1 42.1L382.1 39.1"/><path class="bo" d="M382.1 39.1L383.8 33.6"/>
<path class="bx" d="M151.1 65L153.8 64.6M137.3 141.3L140 140.9"/>
<path class="bm" d="M211.4 130L210.5 133"/><path class="bo" d="M210.5 133L208.7 138.5"/>
<use href="#aO" x="227.4" y="108.3"/>
<path class="bm" d="M307 43L302.5 39"/><path class="bo" d="M302.5 39L294.3 31.7"/>
<use href="#aO" x="298.3" y="140.4"/>
<path class="bm" d="M341.7 52.8L338.2 57.1"/><path class="bo" d="M338.2 57.1L331.7 64.9"/>
<use href="#aO" x="137.9" y="32"/>
<path class="bm" d="M314.3 118.7L315.2 115.7"/><path class="bo" d="M315.2 115.7L317 110.2"/>
<use href="#aO" x="208.7" y="64.1"/>
<path class="bx" d="M380.2 65.3L382.9 64.9M366.4 141.6L369.1 141.2"/>
<path class="bm" d="M224.7 42.4L225.7 39.4"/><path class="bo" d="M225.7 39.4L227.4 33.9"/>
<path class="bx" d="M148.3 65.4L151.1 65M134.5 141.7L137.3 141.3"/>
<path class="bm" d="M240.1 119.6L235.7 115.6"/><path class="bo" d="M235.7 115.6L227.4 108.3"/>
<path class="bm" d="M274.8 129.5L271.3 133.7"/><path class="bo" d="M271.3 133.7L264.8 141.5"/>
<use href="#aM" x="313" y="48.3"/>
<path class="bm" d="M150.6 43.3L146.1 39.3"/><path class="bo" d="M146.1 39.3L137.9 32"/>
<use href="#aO" x="141.9" y="140.7"/>
<path class="bm" d="M185.3 53.2L181.8 57.4"/><path class="bo" d="M181.8 57.4L175.3 65.2"/>
<use href="#aN" x="279.6" y="86.7"/>
<path class="bm" d="M157.8 119L158.8 116"/><path class="bo" d="M158.8 116L160.6 110.5"/>
<path class="bm" d="M373.8 120L377.4 115.8"/><path class="bo" d="M377.4 115.8L383.8 108"/>
<use href="#aO" x="417.3" y="32.5"/>
<path class="bx" d="M377.4 65.7L380.2 65.3M363.6 142L366.4 141.6"/>
<use href="#aM" x="246.1" y="124.9"/>
<path class="bm" d="M284.3 43.7L287.8 39.5"/><path class="bo" d="M287.8 39.5L294.3 31.7"/>
<path class="bm" d="M319 53.6L323.5 57.6"/><path class="bo" d="M323.5 57.6L331.7 64.9"/>
<path class="bx" d="M145.5 65.8L148.3 65.4M131.7 142.1L134.5 141.7"/>
<use href="#aM" x="156.6" y="48.6"/>
<path class="bm" d="M334.4 130.8L333.5 133.8"/><path class="bo" d="M333.5 133.8L331.7 139.3"/>
<use href="#aO" x="350.4" y="109.1"/>
<path class="bm" d="M244.9 54.5L243.9 57.5"/><path class="bo" d="M243.9 57.5L242.1 63"/>
<path class="bm" d="M217.4 120.4L220.9 116.1"/><path class="bo" d="M220.9 116.1L227.4 108.3"/>
<use href="#aO" x="260.9" y="32.8"/>
<path class="bm" d="M252.1 130.2L256.6 134.2"/><path class="bo" d="M256.6 134.2L264.8 141.5"/>
<use href="#aO" x="331.7" y="64.9"/>
<path class="bx" d="M374.6 66L377.4 65.7M360.8 142.4L363.6 142"/>
<path class="bm" d="M162.6 53.9L167 57.9"/><path class="bo" d="M167 57.9L175.3 65.2"/>
<path class="bm" d="M347.7 43.2L348.7 40.2"/><path class="bo" d="M348.7 40.2L350.4 34.7"/>
<path class="bm" d="M178 131.1L177 134.1"/><path class="bo" d="M177 134.1L175.3 139.6"/>
<path class="bm" d="M363.1 120.4L358.6 116.4"/><path class="bo" d="M358.6 116.4L350.4 109.1"/>
<path class="bx" d="M142.8 66.1L145.5 65.8M129 142.5L131.7 142.1"/>
<use href="#aO" x="194" y="109.4"/>
<path class="bm" d="M273.6 44.1L269.1 40.1"/><path class="bo" d="M269.1 40.1L260.9 32.8"/>
<use href="#aO" x="264.8" y="141.5"/>
<path class="bm" d="M308.3 54L304.7 58.2"/><path class="bo" d="M304.7 58.2L298.3 66"/>
<path class="bm" d="M280.8 119.8L281.8 116.8"/><path class="bo" d="M281.8 116.8L283.6 111.3"/>
<use href="#aO" x="175.3" y="65.2"/>
<path class="bm" d="M191.3 43.5L192.2 40.5"/><path class="bo" d="M192.2 40.5L194 35"/>
<path class="bx" d="M371.9 66.4L374.6 66M358.1 142.8L360.8 142.4"/>
<use href="#aM" x="369.1" y="125.7"/>
<path class="bm" d="M206.7 120.7L202.2 116.7"/><path class="bo" d="M202.2 116.7L194 109.4"/>
<path class="bm" d="M241.4 130.6L237.9 134.8"/><path class="bo" d="M237.9 134.8L231.4 142.6"/>
<use href="#aM" x="279.6" y="49.4"/>
<path class="bx" d="M140 66.5L142.8 66.1M126.2 142.9L129 142.5"/>
<use href="#aO" x="108.4" y="141.8"/>
<path class="bm" d="M151.9 54.3L148.3 58.5"/><path class="bo" d="M148.3 58.5L141.9 66.3"/>
<path class="bm" d="M367.8 55.3L366.9 58.3"/><path class="bo" d="M366.9 58.3L365.1 63.8"/>
<use href="#aN" x="246.1" y="87.8"/>
<path class="bm" d="M340.4 121.1L343.9 116.9"/><path class="bo" d="M343.9 116.9L350.4 109.1"/>
<use href="#aO" x="383.8" y="33.6"/>
<path class="bm" d="M375.1 131L379.6 135"/><path class="bo" d="M379.6 135L387.8 142.3"/>
<use href="#aM" x="212.7" y="126"/>
<path class="bm" d="M250.8 44.8L254.4 40.6"/><path class="bo" d="M254.4 40.6L260.9 32.8"/>
<path class="bx" d="M369.1 66.8L371.9 66.4M355.3 143.2L358.1 142.8"/>
<path class="bm" d="M285.5 54.7L290 58.7"/><path class="bo" d="M290 58.7L298.3 66"/>
<path class="bm" d="M301 131.9L300 134.9"/><path class="bo" d="M300 134.9L298.3 140.4"/>
<path class="bx" d="M137.3 66.9L140 66.5M123.5 143.3L126.2 142.9"/>
<use href="#aO" x="317" y="110.2"/>
<path class="bm" d="M211.4 55.6L210.5 58.6"/><path class="bo" d="M210.5 58.6L208.7 64.1"/>
<use href="#aO" x="387.8" y="142.3"/>
<path class="bm" d="M184 121.5L187.5 117.2"/><path class="bo" d="M187.5 117.2L194 109.4"/>
<use href="#aO" x="227.4" y="33.9"/>
<path class="bm" d="M218.7 131.3L223.2 135.3"/><path class="bo" d="M223.2 135.3L231.4 142.6"/>
<use href="#aO" x="298.3" y="66"/>
<path class="bm" d="M314.3 44.3L315.2 41.3"/><path class="bo" d="M315.2 41.3L317 35.8"/>
<path class="bx" d="M366.4 67.2L369.1 66.8M352.6 143.6L355.3 143.2"/>
<path class="bm" d="M144.6 132.2L143.6 135.2"/><path class="bo" d="M143.6 135.2L141.9 140.7"/>
<path class="bm" d="M329.7 121.5L325.2 117.5"/><path class="bo" d="M325.2 117.5L317 110.2"/>
<path class="bm" d="M364.4 131.4L360.9 135.6"/><path class="bo" d="M360.9 135.6L354.4 143.4"/>
<use href="#aO" x="160.6" y="110.5"/>
<path class="bx" d="M134.5 67.3L137.3 66.9M120.7 143.7L123.5 143.3"/>
<path class="bm" d="M240.1 45.2L235.7 41.2"/><path class="bo" d="M235.7 41.2L227.4 33.9"/>
<use href="#aO" x="231.4" y="142.6"/>
<path class="bm" d="M274.8 55.1L271.3 59.3"/><path class="bo" d="M271.3 59.3L264.8 67.1"/>
<use href="#aN" x="369.1" y="88.6"/>
<path class="bm" d="M247.4 120.9L248.4 117.9"/><path class="bo" d="M248.4 117.9L250.1 112.4"/>
<use href="#aO" x="141.9" y="66.3"/>
<path class="bm" d="M157.8 44.6L158.8 41.6"/><path class="bo" d="M158.8 41.6L160.6 36.1"/>
<use href="#aM" x="335.7" y="126.8"/>
<path class="bm" d="M373.8 45.6L377.4 41.4"/><path class="bo" d="M377.4 41.4L383.8 33.6"/>
<path class="bm" d="M173.3 121.8L168.8 117.8"/><path class="bo" d="M168.8 117.8L160.6 110.5"/>
<path class="bx" d="M363.6 67.6L366.4 67.2M349.8 144L352.6 143.6"/>
<path class="bm" d="M208 131.7L204.5 135.9"/><path class="bo" d="M204.5 135.9L198 143.7"/>
<use href="#aM" x="246.1" y="50.5"/>
<path class="bx" d="M131.7 67.7L134.5 67.3M117.9 144.1L120.7 143.7"/>
<path class="bm" d="M334.4 56.4L333.5 59.4"/><path class="bo" d="M333.5 59.4L331.7 64.9"/>
<use href="#aN" x="212.7" y="88.9"/>
<path class="bm" d="M307 122.2L310.5 118"/><path class="bo" d="M310.5 118L317 110.2"/>
<use href="#aO" x="350.4" y="34.7"/>
<path class="bm" d="M341.7 132.1L346.2 136.1"/><path class="bo" d="M346.2 136.1L354.4 143.4"/>
<use href="#aM" x="179.3" y="127.1"/>
<path class="bm" d="M217.4 46L220.9 41.7"/><path class="bo" d="M220.9 41.7L227.4 33.9"/>
<path class="bm" d="M252.1 55.8L256.6 59.8"/><path class="bo" d="M256.6 59.8L264.8 67.1"/>
<path class="bx" d="M347 144.4L349.8 144"/>
<path class="bm" d="M267.6 133L266.6 136"/><path class="bo" d="M266.6 136L264.8 141.5"/>
<path class="bx" d="M360.8 68L363.6 67.6"/>
<use href="#aO" x="283.6" y="111.3"/>
<path class="bm" d="M178 56.7L177 59.7"/><path class="bo" d="M177 59.7L175.3 65.2"/>
<path class="bm" d="M363.1 46L358.6 42"/><path class="bo" d="M358.6 42L350.4 34.7"/>
<use href="#aO" x="354.4" y="143.4"/>
<path class="bx" d="M129 68.1L131.7 67.7M115.2 144.5L117.9 144.1"/>
<path class="bm" d="M150.6 122.6L154.1 118.3"/><path class="bo" d="M154.1 118.3L160.6 110.5"/>
<use href="#aO" x="194" y="35"/>
<path class="bm" d="M185.3 132.4L189.7 136.4"/><path class="bo" d="M189.7 136.4L198 143.7"/>
<path class="bm" d="M370.4 121.7L371.4 118.7"/><path class="bo" d="M371.4 118.7L373.1 113.2"/>
<use href="#aO" x="264.8" y="67.1"/>
<path class="bm" d="M280.8 45.4L281.8 42.4"/><path class="bo" d="M281.8 42.4L283.6 36.9"/>
<path class="bm" d="M111.1 133.3L110.2 136.3"/><path class="bo" d="M110.2 136.3L108.4 141.8"/>
<path class="bm" d="M296.3 122.6L291.8 118.6"/><path class="bo" d="M291.8 118.6L283.6 111.3"/>
<path class="bm" d="M331 132.5L327.4 136.7"/><path class="bo" d="M327.4 136.7L321 144.5"/>
<path class="bx" d="M358.1 68.4L360.8 68M344.3 144.8L347 144.4"/>
<use href="#aM" x="369.1" y="51.3"/>
<use href="#aO" x="127.1" y="111.6"/>
<path class="bm" d="M206.7 46.3L202.2 42.3"/><path class="bo" d="M202.2 42.3L194 35"/>
<use href="#aO" x="198" y="143.7"/>
<path class="bm" d="M241.4 56.2L237.9 60.4"/><path class="bo" d="M237.9 60.4L231.4 68.2"/>
<path class="bx" d="M126.2 68.5L129 68.1M112.4 144.9L115.2 144.5"/>
<use href="#aN" x="335.7" y="89.7"/>
<path class="bm" d="M214 122L214.9 119"/><path class="bo" d="M214.9 119L216.7 113.5"/>
<use href="#aO" x="108.4" y="67.4"/>
<use href="#aM" x="302.3" y="127.9"/>
<path class="bm" d="M340.4 46.7L343.9 42.5"/><path class="bo" d="M343.9 42.5L350.4 34.7"/>
<path class="bm" d="M375.1 56.6L379.6 60.6"/><path class="bo" d="M379.6 60.6L387.8 67.9"/>
<path class="bm" d="M139.9 122.9L135.4 118.9"/><path class="bo" d="M135.4 118.9L127.1 111.6"/>
<path class="bm" d="M174.6 132.8L171 137"/><path class="bo" d="M171 137L164.6 144.8"/>
<path class="bx" d="M112.4 143.4L112.4 144.9"/>
<use href="#aM" x="212.7" y="51.6"/>
<path class="bx" d="M355.3 68.8L358.1 68.4M115.9 145.1L112.4 144.9M341.5 145.2L344.3 144.8M112.4 138.7L112.4 140.2L112.4 141.8L112.4 143.4"/>
<path class="bm" d="M301 57.5L300 60.5"/><path class="bo" d="M300 60.5L298.3 66"/>
<use href="#aN" x="179.3" y="90"/>
<path class="bx" d="M112.4 137.2L112.4 138.7"/>
<path class="bm" d="M273.5 123.4L277.1 119.1"/><path class="bo" d="M277.1 119.1L283.6 111.3"/>
<path class="bx" d="M123.5 68.9L126.2 68.5"/>
<use href="#aO" x="317" y="35.8"/>
<path class="bm" d="M308.2 133.2L312.7 137.2"/><path class="bo" d="M312.7 137.2L321 144.5"/>
<path class="bx" d="M112.4 134.1L112.4 135.6L112.4 137.2"/>
<use href="#aO" x="387.8" y="67.9"/>
<use href="#aM" x="145.8" y="128.2"/>
<path class="bx" d="M119.4 145.3L115.9 145.1"/>
<path class="bm" d="M184 47.1L187.5 42.8"/><path class="bo" d="M187.5 42.8L194 35"/>
<path class="bx" d="M112.4 132.5L112.4 134.1"/>
<path class="bm" d="M218.7 56.9L223.2 60.9"/><path class="bo" d="M223.2 60.9L231.4 68.2"/>
<path class="bx" d="M112.4 129.4L112.4 130.9L112.4 132.5"/>
<path class="bm" d="M234.1 134.1L233.2 137.1"/><path class="bo" d="M233.2 137.1L231.4 142.6"/>
<path class="bx" d="M112.4 127.9L112.4 129.4"/>
<use href="#aO" x="250.1" y="112.4"/>
<path class="bx" d="M352.6 69.2L355.3 68.8M122.9 145.5L119.4 145.3M338.8 145.6L341.5 145.2M112.4 126.3L112.4 127.9"/>
<path class="bm" d="M144.6 57.8L143.6 60.8"/><path class="bo" d="M143.6 60.8L141.9 66.3"/>
<path class="bm" d="M329.7 47.1L325.2 43.1"/><path class="bo" d="M325.2 43.1L317 35.8"/>
<path class="bx" d="M112.4 124.8L112.4 126.3"/>
<use href="#aO" x="321" y="144.5"/>
<path class="bm" d="M364.4 57L360.9 61.2"/><path class="bo" d="M360.9 61.2L354.4 69"/>
<path class="bm" d="M117.1 123.7L120.7 119.4"/><path class="bo" d="M120.7 119.4L127.1 111.6"/>
<path class="bx" d="M112.4 123.2L112.4 124.8"/>
<use href="#aO" x="160.6" y="36.1"/>
<path class="bm" d="M151.8 133.6L156.3 137.5"/><path class="bo" d="M156.3 137.5L164.6 144.8"/>
<path class="bm" d="M337 122.8L337.9 119.8"/><path class="bo" d="M337.9 119.8L339.7 114.3"/>
<path class="bx" d="M120.7 69.3L123.5 68.9M112.4 121.7L112.4 123.2"/>
<use href="#aO" x="231.4" y="68.2"/>
<path class="bx" d="M126.4 145.7L122.9 145.5M112.4 118.6L112.4 120.1L112.4 121.7"/>
<path class="bm" d="M247.4 46.5L248.4 43.5"/><path class="bo" d="M248.4 43.5L250.1 38"/>
<path class="bx" d="M112.4 117L112.4 118.6"/>
<path class="bm" d="M262.8 123.7L258.4 119.7"/><path class="bo" d="M258.4 119.7L250.1 112.4"/>
<path class="bx" d="M112.4 115.5L112.4 117"/>
<path class="bm" d="M297.5 133.6L294 137.8"/><path class="bo" d="M294 137.8L287.5 145.6"/>
<use href="#aM" x="335.7" y="52.4"/>
<path class="bx" d="M112.4 113.9L112.4 115.5"/>
<use href="#aO" x="93.7" y="112.8"/>
<path class="bx" d="M130 145.8L126.4 145.7M112.4 112.4L112.4 113.9"/>
<path class="bm" d="M173.3 47.4L168.8 43.4"/><path class="bo" d="M168.8 43.4L160.6 36.1"/>
<use href="#aO" x="164.6" y="144.8"/>
<path class="bx" d="M349.8 69.6L352.6 69.2M336 146L338.8 145.6"/>
<path class="bm" d="M208 57.3L204.5 61.5"/><path class="bo" d="M204.5 61.5L198 69.3"/>
<path class="bx" d="M112.4 110.8L112.4 112.4"/>
<use href="#aN" x="302.3" y="90.8"/>
<path class="bm" d="M180.5 123.1L181.5 120.1"/><path class="bo" d="M181.5 120.1L183.3 114.6"/>
<path class="bx" d="M117.9 69.7L120.7 69.3M133.5 146L130 145.8M112.4 106.2L112.4 107.7L112.4 109.3L112.4 110.8"/>
<use href="#aM" x="268.8" y="129"/>
<path class="bx" d="M112.4 104.6L112.4 106.2"/>
<path class="bm" d="M307 47.8L310.5 43.6"/><path class="bo" d="M310.5 43.6L317 35.8"/>
<path class="bm" d="M341.7 57.7L346.2 61.7"/><path class="bo" d="M346.2 61.7L354.4 69"/>
<path class="bx" d="M112.4 103.1L112.4 104.6"/>
<path class="bm" d="M106.4 124L101.9 120.1"/><path class="bo" d="M101.9 120.1L93.7 112.8"/>
<path class="bm" d="M141.1 133.9L137.6 138.2"/><path class="bo" d="M137.6 138.2L131.1 146"/>
<path class="bx" d="M112.4 101.5L112.4 103.1"/>
<use href="#aM" x="179.3" y="52.7"/>
<path class="bx" d="M137 146.2L133.5 146M112.4 98.4L112.4 100L112.4 101.5"/>
<use href="#aO" x="373.1" y="113.2"/>
<path class="bx" d="M347 70L349.8 69.6M333.2 146.4L336 146M112.4 96.9L112.4 98.4"/>
<path class="bm" d="M267.6 58.6L266.6 61.6"/><path class="bo" d="M266.6 61.6L264.8 67.1"/>
<use href="#aN" x="145.8" y="91.1"/>
<path class="bx" d="M112.4 95.3L112.4 96.9"/>
<path class="bm" d="M240.1 124.5L243.6 120.2"/><path class="bo" d="M243.6 120.2L250.1 112.4"/>
<use href="#aO" x="283.6" y="36.9"/>
<path class="bm" d="M274.8 134.3L279.3 138.3"/><path class="bo" d="M279.3 138.3L287.5 145.6"/>
<path class="bx" d="M112.4 92.2L112.4 93.8L112.4 95.3"/>
<use href="#aO" x="354.4" y="69"/>
<path class="bx" d="M115.2 70.1L117.9 69.7"/>
<use href="#aM" x="112.4" y="129.4"/>
<path class="bx" d="M140.5 146.4L137 146.2"/>
<path class="bm" d="M150.6 48.2L154.1 43.9"/><path class="bo" d="M154.1 43.9L160.6 36.1"/>
<path class="bx" d="M112.4 90.7L112.4 92.2"/>
<path class="bm" d="M185.3 58L189.7 62"/><path class="bo" d="M189.7 62L198 69.3"/>
<path class="bm" d="M370.4 47.3L371.4 44.3"/><path class="bo" d="M371.4 44.3L373.1 38.8"/>
<path class="bx" d="M112.4 87.6L112.4 89.1L112.4 90.7"/>
<path class="bm" d="M200.7 135.2L199.7 138.2"/><path class="bo" d="M199.7 138.2L198 143.7"/>
<path class="bx" d="M112.4 86L112.4 87.6"/>
<use href="#aO" x="216.7" y="113.5"/>
<path class="bx" d="M144 146.6L140.5 146.4M112.4 84.5L112.4 86"/>
<path class="bm" d="M111.1 58.9L110.2 61.9"/><path class="bo" d="M110.2 61.9L108.4 67.4"/>
<path class="bm" d="M296.3 48.2L291.8 44.2"/><path class="bo" d="M291.8 44.2L283.6 36.9"/>
<use href="#aO" x="287.5" y="145.6"/>
<path class="bx" d="M112.4 82.9L112.4 84.5"/>
<path class="bm" d="M331 58.1L327.4 62.3"/><path class="bo" d="M327.4 62.3L321 70.1"/>
<path class="bx" d="M344.3 70.4L347 70M330.5 146.8L333.2 146.4M112.4 81.4L112.4 82.9"/>
<use href="#aO" x="127.1" y="37.2"/>
<path class="bm" d="M118.4 134.7L122.9 138.6"/><path class="bo" d="M122.9 138.6L131.1 146"/>
<path class="bm" d="M303.5 123.9L304.5 120.9"/><path class="bo" d="M304.5 120.9L306.2 115.4"/>
<path class="bx" d="M112.4 79.8L112.4 81.4"/>
<use href="#aO" x="198" y="69.3"/>
<path class="bx" d="M112.4 70.5L115.2 70.1M147.5 146.8L144 146.6M112.4 76.7L112.4 78.2L112.4 79.8"/>
<path class="bm" d="M214 47.6L214.9 44.6"/><path class="bo" d="M214.9 44.6L216.7 39.1"/>
<path class="bx" d="M112.4 75.2L112.4 76.7"/>
<path class="bm" d="M229.4 124.8L224.9 120.8"/><path class="bo" d="M224.9 120.8L216.7 113.5"/>
<path class="bx" d="M112.4 73.6L112.4 75.2"/>
<path class="bm" d="M264.1 134.7L260.6 138.9"/><path class="bo" d="M260.6 138.9L254.1 146.7"/>
<use href="#aM" x="302.3" y="53.5"/>
<path class="bx" d="M151 147L147.5 146.8M112.4 70.5L112.4 72.1L112.4 73.6"/>
<path class="bm" d="M139.9 48.5L135.4 44.5"/><path class="bo" d="M135.4 44.5L127.1 37.2"/>
<use href="#aO" x="131.1" y="146"/>
<path class="bm" d="M174.6 58.4L171 62.6"/><path class="bo" d="M171 62.6L164.6 70.4"/>
<use href="#aN" x="268.8" y="91.9"/>
<path class="bm" d="M147.1 124.2L148.1 121.2"/><path class="bo" d="M148.1 121.2L149.8 115.8"/>
<path class="bx" d="M115.9 70.7L112.4 70.5M341.5 70.8L344.3 70.4M154.5 147.2L151 147M327.7 147.2L330.5 146.8"/>
<use href="#aM" x="235.4" y="130.1"/>
<path class="bm" d="M273.5 49L277.1 44.7"/><path class="bo" d="M277.1 44.7L283.6 36.9"/>
<path class="bm" d="M308.2 58.8L312.7 62.8"/><path class="bo" d="M312.7 62.8L321 70.1"/>
<path class="bm" d="M107.7 135L104.2 139.3"/><path class="bo" d="M104.2 139.3L97.7 147.1"/>
<use href="#aM" x="145.8" y="53.8"/>
<path class="bx" d="M119.4 70.9L115.9 70.7"/>
<path class="bm" d="M323.7 136L322.7 139"/><path class="bo" d="M322.7 139L321 144.5"/>
<path class="bx" d="M158 147.3L154.5 147.2"/>
<use href="#aO" x="339.7" y="114.3"/>
<path class="bm" d="M234.1 59.7L233.2 62.7"/><path class="bo" d="M233.2 62.7L231.4 68.2"/>
<use href="#aN" x="112.4" y="92.2"/>
<path class="bm" d="M206.7 125.6L210.2 121.3"/><path class="bo" d="M210.2 121.3L216.7 113.5"/>
<use href="#aO" x="250.1" y="38"/>
<path class="bx" d="M122.9 71.1L119.4 70.9M325 147.6L327.7 147.2"/>
<path class="bm" d="M241.4 135.4L245.9 139.4"/><path class="bo" d="M245.9 139.4L254.1 146.7"/>
<path class="bx" d="M338.8 71.2L341.5 70.8"/>
<use href="#aO" x="321" y="70.1"/>
<path class="bx" d="M161.5 147.5L158 147.3"/>
<path class="bm" d="M117.1 49.3L120.7 45"/><path class="bo" d="M120.7 45L127.1 37.2"/>
<path class="bm" d="M151.8 59.2L156.3 63.1"/><path class="bo" d="M156.3 63.1L164.6 70.4"/>
<path class="bm" d="M337 48.4L337.9 45.4"/><path class="bo" d="M337.9 45.4L339.7 39.9"/>
<path class="bm" d="M167.3 136.3L166.3 139.3"/><path class="bo" d="M166.3 139.3L164.6 144.8"/>
<path class="bx" d="M126.4 71.3L122.9 71.1"/>
<use href="#aO" x="183.3" y="114.6"/>
<path class="bx" d="M165 147.7L161.5 147.5"/>
<path class="bm" d="M262.8 49.3L258.4 45.3"/><path class="bo" d="M258.4 45.3L250.1 38"/>
<use href="#aO" x="254.1" y="146.7"/>
<path class="bm" d="M297.5 59.2L294 63.4"/><path class="bo" d="M294 63.4L287.5 71.2"/>
<use href="#aO" x="93.7" y="38.4"/>
<path class="bm" d="M270.1 125L271.1 122"/><path class="bo" d="M271.1 122L272.8 116.5"/>
<path class="bx" d="M130 71.4L126.4 71.3"/>
<use href="#aO" x="164.6" y="70.4"/>
<path class="bx" d="M336 71.6L338.8 71.2M168.5 147.9L165 147.7M322.2 148L325 147.6"/>
<path class="bm" d="M180.5 48.7L181.5 45.7"/><path class="bo" d="M181.5 45.7L183.3 40.2"/>
<path class="bm" d="M196 125.9L191.5 121.9"/><path class="bo" d="M191.5 121.9L183.3 114.6"/>
<path class="bm" d="M230.7 135.8L227.2 140"/><path class="bo" d="M227.2 140L220.7 147.8"/>
<path class="bx" d="M133.5 71.6L130 71.4"/>
<use href="#aM" x="268.8" y="54.6"/>
<path class="bm" d="M106.4 49.6L101.9 45.7"/><path class="bo" d="M101.9 45.7L93.7 38.4"/>
<path class="bx" d="M172 148.1L168.5 147.9"/>
<use href="#aO" x="97.7" y="147.1"/>
<path class="bm" d="M141.1 59.5L137.6 63.8"/><path class="bo" d="M137.6 63.8L131.1 71.5"/>
<use href="#aN" x="235.4" y="93"/>
<path class="bm" d="M113.7 125.4L114.6 122.4"/><path class="bo" d="M114.6 122.4L116.4 116.9"/>
<path class="bm" d="M329.7 126.4L333.2 122.1"/><path class="bo" d="M333.2 122.1L339.7 114.3"/>
<path class="bx" d="M137 71.8L133.5 71.6"/>
<use href="#aO" x="373.1" y="38.8"/>
<path class="bx" d="M333.2 72L336 71.6M319.4 148.4L322.2 148"/>
<use href="#aM" x="202" y="131.2"/>
<path class="bx" d="M175.6 148.3L172 148.1"/>
<path class="bm" d="M240.1 50.1L243.6 45.8"/><path class="bo" d="M243.6 45.8L250.1 38"/>
<path class="bm" d="M274.8 59.9L279.3 63.9"/><path class="bo" d="M279.3 63.9L287.5 71.2"/>
<use href="#aM" x="112.4" y="55"/>
<path class="bx" d="M140.5 72L137 71.8"/>
<path class="bm" d="M290.3 137.1L289.3 140.1"/><path class="bo" d="M289.3 140.1L287.5 145.6"/>
<use href="#aO" x="306.2" y="115.4"/>
<path class="bx" d="M179.1 148.5L175.6 148.3"/>
<path class="bm" d="M200.7 60.8L199.7 63.8"/><path class="bo" d="M199.7 63.8L198 69.3"/>
<path class="bm" d="M173.3 126.7L176.8 122.4"/><path class="bo" d="M176.8 122.4L183.3 114.6"/>
<use href="#aO" x="216.7" y="39.1"/>
<path class="bm" d="M208 136.6L212.4 140.5"/><path class="bo" d="M212.4 140.5L220.7 147.8"/>
<path class="bx" d="M144 72.2L140.5 72"/>
<use href="#aO" x="287.5" y="71.2"/>
<path class="bx" d="M330.5 72.4L333.2 72M182.6 148.7L179.1 148.5M316.7 148.8L319.4 148.4"/>
<path class="bm" d="M118.4 60.3L122.9 64.2"/><path class="bo" d="M122.9 64.2L131.1 71.5"/>
<path class="bm" d="M303.5 49.5L304.5 46.5"/><path class="bo" d="M304.5 46.5L306.2 41"/>
<path class="bm" d="M319 126.7L314.5 122.7"/><path class="bo" d="M314.5 122.7L306.2 115.4"/>
<path class="bx" d="M147.5 72.4L144 72.2"/>
<use href="#aO" x="149.8" y="115.8"/>
<path class="bx" d="M186.1 148.8L182.6 148.7"/>
<path class="bm" d="M229.4 50.4L224.9 46.4"/><path class="bo" d="M224.9 46.4L216.7 39.1"/>
<use href="#aO" x="220.7" y="147.8"/>
<path class="bm" d="M264.1 60.3L260.6 64.5"/><path class="bo" d="M260.6 64.5L254.1 72.3"/>
<path class="bm" d="M236.7 126.1L237.6 123.1"/><path class="bo" d="M237.6 123.1L239.4 117.6"/>
<path class="bx" d="M151 72.6L147.5 72.4"/>
<use href="#aO" x="131.1" y="71.5"/>
<path class="bx" d="M189.6 149L186.1 148.8"/>
<path class="bm" d="M147.1 49.8L148.1 46.8"/><path class="bo" d="M148.1 46.8L149.8 41.4"/>
<path class="bx" d="M327.7 72.8L330.5 72.4M313.9 149.2L316.7 148.8"/>
<use href="#aM" x="325" y="132"/>
<path class="bm" d="M162.6 127L158.1 123.1"/><path class="bo" d="M158.1 123.1L149.8 115.8"/>
<path class="bm" d="M197.3 136.9L193.7 141.2"/><path class="bo" d="M193.7 141.2L187.2 149"/>
<path class="bx" d="M154.5 72.8L151 72.6"/>
<use href="#aM" x="235.4" y="55.7"/>
<path class="bx" d="M193.1 149.2L189.6 149"/>
<path class="bm" d="M107.7 60.6L104.2 64.9"/><path class="bo" d="M104.2 64.9L97.7 72.7"/>
<path class="bm" d="M323.7 61.6L322.7 64.6"/><path class="bo" d="M322.7 64.6L321 70.1"/>
<use href="#aN" x="202" y="94.1"/>
<path class="bm" d="M296.2 127.5L299.8 123.2"/><path class="bo" d="M299.8 123.2L306.2 115.4"/>
<path class="bx" d="M158 72.9L154.5 72.8"/>
<use href="#aO" x="339.7" y="39.9"/>
<path class="bm" d="M330.9 137.3L335.4 141.3"/><path class="bo" d="M335.4 141.3L343.7 148.6"/>
<use href="#aM" x="168.5" y="132.4"/>
<path class="bx" d="M196.6 149.4L193.1 149.2"/>
<path class="bm" d="M206.7 51.2L210.2 46.9"/><path class="bo" d="M210.2 46.9L216.7 39.1"/>
<path class="bx" d="M325 73.2L327.7 72.8M311.2 149.5L313.9 149.2"/>
<path class="bm" d="M241.4 61L245.9 65"/><path class="bo" d="M245.9 65L254.1 72.3"/>
<path class="bm" d="M256.8 138.2L255.9 141.2"/><path class="bo" d="M255.9 141.2L254.1 146.7"/>
<path class="bx" d="M161.5 73.1L158 72.9"/>
<use href="#aO" x="272.8" y="116.5"/>
<path class="bx" d="M200.1 149.6L196.6 149.4"/>
<path class="bm" d="M167.3 61.9L166.3 64.9"/><path class="bo" d="M166.3 64.9L164.6 70.4"/>
<use href="#aO" x="343.7" y="148.6"/>
<use href="#aO" x="183.3" y="40.2"/>
<path class="bm" d="M174.5 137.7L179 141.6"/><path class="bo" d="M179 141.6L187.2 149"/>
<path class="bx" d="M165 73.3L161.5 73.1"/>
<use href="#aO" x="254.1" y="72.3"/>
<path class="bx" d="M203.6 149.8L200.1 149.6"/>
<path class="bm" d="M270.1 50.6L271.1 47.6"/><path class="bo" d="M271.1 47.6L272.8 42.1"/>
<path class="bx" d="M322.2 73.6L325 73.2M308.4 149.9L311.2 149.5"/>
<path class="bm" d="M285.5 127.8L281.1 123.8"/><path class="bo" d="M281.1 123.8L272.8 116.5"/>
<path class="bx" d="M168.5 73.5L165 73.3"/>
<path class="bm" d="M320.2 137.7L316.7 141.9"/><path class="bo" d="M316.7 141.9L310.2 149.7"/>
<use href="#aO" x="116.4" y="116.9"/>
<path class="bx" d="M207.1 150L203.6 149.8"/>
<path class="bm" d="M196 51.5L191.5 47.5"/><path class="bo" d="M191.5 47.5L183.3 40.2"/>
<use href="#aO" x="187.2" y="149"/>
<path class="bm" d="M230.7 61.4L227.2 65.6"/><path class="bo" d="M227.2 65.6L220.7 73.4"/>
<use href="#aN" x="325" y="94.9"/>
<path class="bm" d="M203.2 127.2L204.2 124.2"/><path class="bo" d="M204.2 124.2L206 118.8"/>
<path class="bx" d="M172 73.7L168.5 73.5"/>
<use href="#aO" x="97.7" y="72.7"/>
<path class="bm" d="M113.7 51L114.6 48"/><path class="bo" d="M114.6 48L116.4 42.5"/>
<path class="bx" d="M210.6 150.2L207.1 150"/>
<use href="#aM" x="291.5" y="133.1"/>
<path class="bm" d="M329.7 52L333.2 47.7"/><path class="bo" d="M333.2 47.7L339.7 39.9"/>
<path class="bx" d="M319.4 74L322.2 73.6M305.6 150.3L308.4 149.9"/>
<path class="bm" d="M163.8 138L160.3 142.3"/><path class="bo" d="M160.3 142.3L153.8 150.1"/>
<use href="#aM" x="202" y="56.8"/>
<path class="bx" d="M175.6 73.9L172 73.7M214.1 150.3L210.6 150.2"/>
<path class="bm" d="M290.3 62.7L289.3 65.7"/><path class="bo" d="M289.3 65.7L287.5 71.2"/>
<use href="#aN" x="168.5" y="95.2"/>
<path class="bm" d="M262.8 128.6L266.3 124.3"/><path class="bo" d="M266.3 124.3L272.8 116.5"/>
<use href="#aO" x="306.2" y="41"/>
<path class="bx" d="M179.1 74.1L175.6 73.9"/>
<path class="bm" d="M297.5 138.4L302 142.4"/><path class="bo" d="M302 142.4L310.2 149.7"/>
<path class="bx" d="M217.7 150.5L214.1 150.3"/>
<path class="bm" d="M173.3 52.3L176.8 48"/><path class="bo" d="M176.8 48L183.3 40.2"/>
<path class="bm" d="M208 62.2L212.4 66.1"/><path class="bo" d="M212.4 66.1L220.7 73.4"/>
<path class="bx" d="M302.9 150.7L305.6 150.3"/>
<path class="bm" d="M223.4 139.3L222.4 142.3"/><path class="bo" d="M222.4 142.3L220.7 147.8"/>
<path class="bx" d="M182.6 74.3L179.1 74.1M316.7 74.4L319.4 74"/>
<use href="#aO" x="239.4" y="117.6"/>
<path class="bx" d="M221.2 150.7L217.7 150.5"/>
<path class="bm" d="M319 52.3L314.5 48.3"/><path class="bo" d="M314.5 48.3L306.2 41"/>
<use href="#aO" x="310.2" y="149.7"/>
<use href="#aO" x="149.8" y="41.4"/>
<path class="bm" d="M326.2 128L327.2 125"/><path class="bo" d="M327.2 125L328.9 119.5"/>
<path class="bx" d="M186.1 74.4L182.6 74.3"/>
<use href="#aO" x="220.7" y="73.4"/>
<path class="bx" d="M224.7 150.9L221.2 150.7"/>
<path class="bm" d="M236.7 51.7L237.6 48.7"/><path class="bo" d="M237.6 48.7L239.4 43.2"/>
<path class="bm" d="M252.1 128.9L247.6 124.9"/><path class="bo" d="M247.6 124.9L239.4 117.6"/>
<path class="bm" d="M286.8 138.8L283.3 143"/><path class="bo" d="M283.3 143L276.8 150.8"/>
<path class="bx" d="M189.6 74.6L186.1 74.4M313.9 74.8L316.7 74.4M300.1 151.1L302.9 150.7"/>
<use href="#aM" x="325" y="57.6"/>
<path class="bm" d="M162.6 52.6L158.1 48.7"/><path class="bo" d="M158.1 48.7L149.8 41.4"/>
<path class="bx" d="M228.2 151.1L224.7 150.9"/>
<use href="#aO" x="153.8" y="150.1"/>
<path class="bm" d="M197.3 62.5L193.7 66.8"/><path class="bo" d="M193.7 66.8L187.2 74.5"/>
<use href="#aN" x="291.5" y="96"/>
<path class="bm" d="M169.8 128.4L170.8 125.4"/><path class="bo" d="M170.8 125.4L172.5 119.9"/>
<path class="bx" d="M193.1 74.8L189.6 74.6"/>
<use href="#aM" x="258.1" y="134.2"/>
<path class="bx" d="M231.7 151.3L228.2 151.1"/>
<path class="bm" d="M296.2 53.1L299.8 48.8"/><path class="bo" d="M299.8 48.8L306.2 41"/>
<path class="bm" d="M330.9 62.9L335.4 66.9"/><path class="bo" d="M335.4 66.9L343.7 74.2"/>
<use href="#aM" x="168.5" y="58"/>
<path class="bx" d="M196.6 75L193.1 74.8M311.2 75.1L313.9 74.8M235.2 151.5L231.7 151.3M297.4 151.5L300.1 151.1"/>
<path class="bm" d="M256.8 63.8L255.9 66.8"/><path class="bo" d="M255.9 66.8L254.1 72.3"/>
<path class="bm" d="M229.4 129.7L232.9 125.4"/><path class="bo" d="M232.9 125.4L239.4 117.6"/>
<use href="#aO" x="272.8" y="42.1"/>
<path class="bm" d="M264.1 139.6L268.6 143.5"/><path class="bo" d="M268.6 143.5L276.8 150.8"/>
<path class="bx" d="M200.1 75.2L196.6 75"/>
<use href="#aO" x="343.7" y="74.2"/>
<path class="bx" d="M238.7 151.7L235.2 151.5"/>
<path class="bm" d="M174.5 63.3L179 67.2"/><path class="bo" d="M179 67.2L187.2 74.5"/>
<path class="bx" d="M203.6 75.4L200.1 75.2"/>
<use href="#aO" x="206" y="118.8"/>
<path class="bx" d="M308.4 75.5L311.2 75.1M242.2 151.8L238.7 151.7M294.6 151.9L297.4 151.5"/>
<path class="bm" d="M285.5 53.4L281.1 49.4"/><path class="bo" d="M281.1 49.4L272.8 42.1"/>
<use href="#aO" x="276.8" y="150.8"/>
<path class="bm" d="M320.2 63.3L316.7 67.5"/><path class="bo" d="M316.7 67.5L310.2 75.3"/>
<use href="#aO" x="116.4" y="42.5"/>
<path class="bm" d="M292.8 129.1L293.8 126.1"/><path class="bo" d="M293.8 126.1L295.5 120.6"/>
<path class="bx" d="M207.1 75.6L203.6 75.4"/>
<use href="#aO" x="187.2" y="74.5"/>
<path class="bx" d="M245.7 152L242.2 151.8"/>
<path class="bm" d="M203.2 52.8L204.2 49.8"/><path class="bo" d="M204.2 49.8L206 44.3"/>
<path class="bm" d="M218.7 130L214.2 126.1"/><path class="bo" d="M214.2 126.1L206 118.8"/>
<path class="bm" d="M253.4 139.9L249.9 144.2"/><path class="bo" d="M249.9 144.2L243.4 152"/>
<path class="bx" d="M210.6 75.8L207.1 75.6"/>
<use href="#aM" x="291.5" y="58.7"/>
<path class="bx" d="M305.6 75.9L308.4 75.5M249.2 152.2L245.7 152M291.8 152.3L294.6 151.9"/>
<path class="bm" d="M163.8 63.6L160.3 67.9"/><path class="bo" d="M160.3 67.9L153.8 75.7"/>
<use href="#aN" x="258.1" y="97.1"/>
<path class="bx" d="M214.1 75.9L210.6 75.8"/>
<use href="#aM" x="224.7" y="135.4"/>
<path class="bx" d="M252.7 152.4L249.2 152.2"/>
<path class="bm" d="M262.8 54.2L266.3 49.9"/><path class="bo" d="M266.3 49.9L272.8 42.1"/>
<path class="bm" d="M297.5 64L302 68"/><path class="bo" d="M302 68L310.2 75.3"/>
<path class="bx" d="M217.7 76.1L214.1 75.9"/>
<use href="#aO" x="328.9" y="119.5"/>
<path class="bx" d="M302.9 76.3L305.6 75.9M256.2 152.6L252.7 152.4M289.1 152.7L291.8 152.3"/>
<path class="bm" d="M223.4 64.9L222.4 67.9"/><path class="bo" d="M222.4 67.9L220.7 73.4"/>
<use href="#aO" x="239.4" y="43.2"/>
<path class="bm" d="M230.7 140.7L235.1 144.6"/><path class="bo" d="M235.1 144.6L243.4 152"/>
<path class="bx" d="M221.2 76.3L217.7 76.1"/>
<use href="#aO" x="310.2" y="75.3"/>
<path class="bx" d="M259.8 152.8L256.2 152.6"/>
<path class="bm" d="M326.2 53.6L327.2 50.6"/><path class="bo" d="M327.2 50.6L328.9 45.1"/>
<path class="bx" d="M224.7 76.5L221.2 76.3"/>
<use href="#aO" x="172.5" y="119.9"/>
<path class="bx" d="M263.3 153L259.8 152.8"/>
<path class="bm" d="M252.1 54.5L247.6 50.5"/><path class="bo" d="M247.6 50.5L239.4 43.2"/>
<use href="#aO" x="243.4" y="152"/>
<path class="bm" d="M286.8 64.4L283.3 68.6"/><path class="bo" d="M283.3 68.6L276.8 76.4"/>
<path class="bx" d="M300.1 76.7L302.9 76.3M286.3 153.1L289.1 152.7"/>
<path class="bm" d="M259.4 130.2L260.3 127.2"/><path class="bo" d="M260.3 127.2L262.1 121.8"/>
<path class="bx" d="M228.2 76.7L224.7 76.5"/>
<use href="#aO" x="153.8" y="75.7"/>
<path class="bm" d="M169.8 54L170.8 51"/><path class="bo" d="M170.8 51L172.5 45.5"/>
<path class="bx" d="M266.8 153.2L263.3 153"/>
<path class="bm" d="M220 141L216.4 145.3"/><path class="bo" d="M216.4 145.3L210 153.1"/>
<use href="#aM" x="258.1" y="59.8"/>
<path class="bx" d="M231.7 76.9L228.2 76.7M270.3 153.3L266.8 153.2"/>
<use href="#aN" x="224.7" y="98.2"/>
<path class="bx" d="M235.2 77.1L231.7 76.9M297.4 77.1L300.1 76.7M273.8 153.5L270.3 153.3M283.6 153.5L286.3 153.1"/>
<path class="bm" d="M229.4 55.3L232.9 51"/><path class="bo" d="M232.9 51L239.4 43.2"/>
<path class="bm" d="M264.1 65.2L268.6 69.1"/><path class="bo" d="M268.6 69.1L276.8 76.4"/>
<path class="bm" d="M279.5 142.3L278.6 145.3"/><path class="bo" d="M278.6 145.3L276.8 150.8"/>
<path class="bx" d="M238.7 77.3L235.2 77.1"/>
<use href="#aO" x="295.5" y="120.6"/>
<path class="bx" d="M277.3 153.7L273.8 153.5"/>
<use href="#aO" x="206" y="44.3"/>
<path class="bx" d="M242.2 77.4L238.7 77.3M294.6 77.5L297.4 77.1M280.8 153.9L283.6 153.5"/>
<use href="#aO" x="276.8" y="76.4"/>
<path class="bx" d="M280.8 153.9L277.3 153.7"/>
<path class="bm" d="M292.8 54.7L293.8 51.7"/><path class="bo" d="M293.8 51.7L295.5 46.2"/>
<path class="bx" d="M245.7 77.6L242.2 77.4M280.8 150.8L280.8 152.4L280.8 153.9"/>
<path class="bm" d="M218.7 55.6L214.2 51.7"/><path class="bo" d="M214.2 51.7L206 44.3"/>
<use href="#aO" x="210" y="153.1"/>
<path class="bx" d="M280.8 149.2L280.8 150.8"/>
<path class="bm" d="M253.4 65.5L249.9 69.8"/><path class="bo" d="M249.9 69.8L243.4 77.5"/>
<path class="bx" d="M280.8 147.7L280.8 149.2"/>
<path class="bm" d="M225.9 131.4L226.9 128.4"/><path class="bo" d="M226.9 128.4L228.7 122.9"/>
<path class="bx" d="M249.2 77.8L245.7 77.6M291.8 77.9L294.6 77.5M280.8 139.9L280.8 141.5L280.8 143.1L280.8 144.6L280.8 146.2L280.8 147.7"/>
<use href="#aM" x="224.7" y="61"/>
<path class="bx" d="M252.7 78L249.2 77.8M280.8 133.8L280.8 135.3L280.8 136.9L280.8 138.4L280.8 139.9"/>
<path class="bm" d="M285.5 132.7L289 128.4"/><path class="bo" d="M289 128.4L295.5 120.6"/>
<path class="bx" d="M280.8 132.2L280.8 133.8"/>
<use href="#aO" x="328.9" y="45.1"/>
<path class="bx" d="M256.2 78.2L252.7 78M289.1 78.3L291.8 77.9M280.8 129.1L280.8 130.7L280.8 132.2"/>
<path class="bm" d="M230.7 66.3L235.1 70.2"/><path class="bo" d="M235.1 70.2L243.4 77.5"/>
<path class="bx" d="M259.8 78.4L256.2 78.2M280.8 122.9L280.8 124.5L280.8 126L280.8 127.6L280.8 129.1"/>
<use href="#aO" x="262.1" y="121.8"/>
<path class="bx" d="M280.8 119.8L280.8 121.4L280.8 122.9"/>
<use href="#aO" x="172.5" y="45.5"/>
<path class="bx" d="M263.3 78.6L259.8 78.4M280.8 118.3L280.8 119.8"/>
<use href="#aO" x="243.4" y="77.5"/>
<path class="bx" d="M286.3 78.7L289.1 78.3M280.8 115.2L280.8 116.7L280.8 118.3"/>
<path class="bm" d="M259.4 55.8L260.3 52.8"/><path class="bo" d="M260.3 52.8L262.1 47.3"/>
<path class="bx" d="M280.8 112.1L280.8 113.6L280.8 115.2"/>
<path class="bm" d="M274.8 133L270.3 129.1"/><path class="bo" d="M270.3 129.1L262.1 121.8"/>
<path class="bx" d="M266.8 78.8L263.3 78.6M280.8 107.4L280.8 109L280.8 110.5L280.8 112.1"/>
<path class="bm" d="M220 66.6L216.4 70.9"/><path class="bo" d="M216.4 70.9L210 78.7"/>
<path class="bx" d="M270.3 78.9L266.8 78.8M283.6 79.1L286.3 78.7M280.8 101.2L280.8 102.8L280.8 104.3L280.8 105.9L280.8 107.4"/>
<use href="#aM" x="280.8" y="138.4"/>
<path class="bx" d="M273.8 79.1L270.3 78.9M280.8 93.5L280.8 95L280.8 96.6L280.8 98.1L280.8 99.7L280.8 101.2"/>
<path class="bm" d="M279.5 67.9L278.6 70.9"/><path class="bo" d="M278.6 70.9L276.8 76.4"/>
<path class="bx" d="M280.8 90.4L280.8 91.9L280.8 93.5"/>
<use href="#aO" x="295.5" y="46.2"/>
<path class="bm" d="M286.8 143.7L291.3 147.6"/><path class="bo" d="M291.3 147.6L299.5 155"/>
<path class="bx" d="M280.8 79.5L277.3 79.3L273.8 79.1M280.8 79.5L283.6 79.1M280.8 81.1L280.8 82.6L280.8 84.2L280.8 85.7L280.8 87.2L280.8 88.8L280.8 90.4"/>
<use href="#aO" x="228.7" y="122.9"/>
<path class="bx" d="M280.8 79.5L280.8 81.1"/>
<use href="#aO" x="299.5" y="155"/>
<use href="#aO" x="210" y="78.7"/>
<path class="bm" d="M225.9 57L226.9 54"/><path class="bo" d="M226.9 54L228.7 48.5"/>
<path class="bm" d="M276.1 144L272.6 148.3"/><path class="bo" d="M272.6 148.3L266.1 156.1"/>
<use href="#aN" x="280.8" y="101.2"/>
<path class="bm" d="M285.5 58.3L289 54"/><path class="bo" d="M289 54L295.5 46.2"/>
<use href="#aO" x="262.1" y="47.3"/>
<path class="bm" d="M274.8 58.6L270.3 54.7"/><path class="bo" d="M270.3 54.7L262.1 47.3"/>
<use href="#aO" x="266.1" y="156.1"/>
<path class="bm" d="M282.1 134.4L283 131.4"/><path class="bo" d="M283 131.4L284.8 125.9"/>
<use href="#aM" x="280.8" y="64"/>
<path class="bm" d="M286.8 69.3L291.3 73.2"/><path class="bo" d="M291.3 73.2L299.5 80.5"/>
<use href="#aO" x="228.7" y="48.5"/>
<use href="#aO" x="299.5" y="80.5"/>
<path class="bm" d="M276.1 69.6L272.6 73.9"/><path class="bo" d="M272.6 73.9L266.1 81.7"/>
<use href="#aO" x="284.8" y="125.9"/>
<use href="#aO" x="266.1" y="81.7"/>
<path class="bm" d="M282.1 60L283 57"/><path class="bo" d="M283 57L284.8 51.5"/>
<use href="#aO" x="284.8" y="51.5"/>
</g>
<rect x="81.2" y="1.2" width="602.8" height="484.8" fill="none" stroke="#000" stroke-width="1.7"/>
<path d="M81.20 486.0v9.6M81.20 1.2v9.6M201.76 486.0v4.8M201.76 1.2v4.8M322.32 486.0v9.6M322.32 1.2v9.6M442.88 486.0v4.8M442.88 1.2v4.8M563.44 486.0v9.6M563.44 1.2v9.6M684.00 486.0v4.8M684.00 1.2v4.8M81.2 486.00h-9.6M684.0 486.00h-9.6M81.2 432.13h-4.8M684.0 432.13h-4.8M81.2 378.27h-9.6M684.0 378.27h-9.6M81.2 324.40h-4.8M684.0 324.40h-4.8M81.2 270.53h-9.6M684.0 270.53h-9.6M81.2 216.67h-4.8M684.0 216.67h-4.8M81.2 162.80h-9.6M684.0 162.80h-9.6M81.2 108.93h-4.8M684.0 108.93h-4.8M81.2 55.07h-9.6M684.0 55.07h-9.6M81.2 1.20h-4.8M684.0 1.20h-4.8" fill="none" stroke="#000" stroke-width="1.6"/>
<g font-family='"Liberation Sans", Arial, Helvetica, sans-serif' font-weight="bold" font-size="25.2" fill="#000">
<text x="65.2" y="493.70" text-anchor="end">0</text>
<text x="65.2" y="385.97" text-anchor="end">20</text>
<text x="65.2" y="278.23" text-anchor="end">40</text>
<text x="65.2" y="170.50" text-anchor="end">60</text>
<text x="65.2" y="62.77" text-anchor="end">80</text>
<text x="81.20" y="521.8" text-anchor="middle">0</text>
<text x="322.32" y="521.8" text-anchor="middle">1000</text>
<text x="563.44" y="521.8" text-anchor="middle">2000</text>
<text x="238.8" y="566.8" font-size="27.25">E<tspan font-size="18.7" dy="6.3">Coulomb</tspan><tspan dy="-6.3"> / [meV / atom]</tspan></text>
<text transform="translate(20.4 363.5) rotate(-90)" font-size="27.25">E<tspan font-size="18.7" dy="6.3">DFT</tspan><tspan dy="-6.3"> / [meV / atom]</tspan></text>
<text x="141.3" y="185" font-size="27.1">Na<tspan font-size="19" dy="7">1.0</tspan><tspan dy="-7">[Li</tspan><tspan font-size="19" dy="7">0.33</tspan><tspan dy="-7">Mn</tspan><tspan font-size="19" dy="7">0.67</tspan><tspan dy="-7">]O</tspan><tspan font-size="19" dy="7">2</tspan></text>
</g>
<rect x="470.3" y="370.9" width="194.7" height="73.8" fill="#fff" stroke="#6e6e6e" stroke-width="1"/>
<path d="M495.7 385.3L507.7 397.3M495.7 397.3L507.7 385.3" fill="none" stroke="#2ca02c" stroke-width="2.6" stroke-linecap="round" clip-path="url(#pc)"/>
<path d="M473.9 426h15.2M509.8 426h15.2" fill="none" stroke="#f4190f" stroke-width="3.8" stroke-linecap="round"/>
<g font-family='"Liberation Sans", Arial, Helvetica, sans-serif' font-weight="bold" font-size="27.4" fill="#000">
<text x="530.3" y="399.6">Energies</text>
<text x="538.2" y="434.6">Linear Fit</text>
</g>
<style>.fx{font-family:"Liberation Serif","DejaVu Serif",serif;font-size:27.8px;fill:#000;stroke:#000;stroke-width:0.4px;stroke-linejoin:round}.fp{font-size:30px}.fi{font-style:italic;font-size:28.5px;stroke-width:0.15px}.fo{font-family:"DejaVu Sans","Liberation Sans",sans-serif;font-weight:200;font-size:30px}</style>
<text class="fx" xml:space="preserve" x="192.7 208.4 217.9 232.7 245.0 248.7 275.0 280.8 289.9 305.1 312.5 326.2 338.7 354.0 356.7 381.0 385.9 401.1 408.5 421.9 435.5 448.1 460.0 463.2 486.0 493.3 510.0 511.6 537.0 541.6 557.0 563.7 576.7 592.0 594.5 619.0 623.1 638.0 643.9 657.1" y="472.0 472.0 472.0 472.0 472.0 474.7 472.0 472.0 472.0 472.0 472.0 472.0 472.0 472.0 472.3 472.0 472.0 472.0 472.0 472.0 472.0 472.0 472.0 474.4 472.0 472.0 472.0 473.3 472.0 472.0 472.0 472.0 472.0 472.0 472.3 472.0 472.0 472.0 472.0 472.0"><tspan class="fi" textLength="10" lengthAdjust="spacingAndGlyphs">f</tspan><tspan class="fp">(</tspan><tspan class="fi" textLength="14" lengthAdjust="spacingAndGlyphs">x</tspan><tspan class="fp">)</tspan> <tspan class="fo">=</tspan> <tspan class="fp">(</tspan>0.035 <tspan class="fo">±</tspan> 0.001<tspan class="fp">)</tspan> <tspan class="fo">×</tspan> <tspan class="fi" textLength="14" lengthAdjust="spacingAndGlyphs">x</tspan> <tspan class="fo">+</tspan> 2.80 <tspan class="fo">±</tspan> 1.35</text>
</svg>
</body></html>
